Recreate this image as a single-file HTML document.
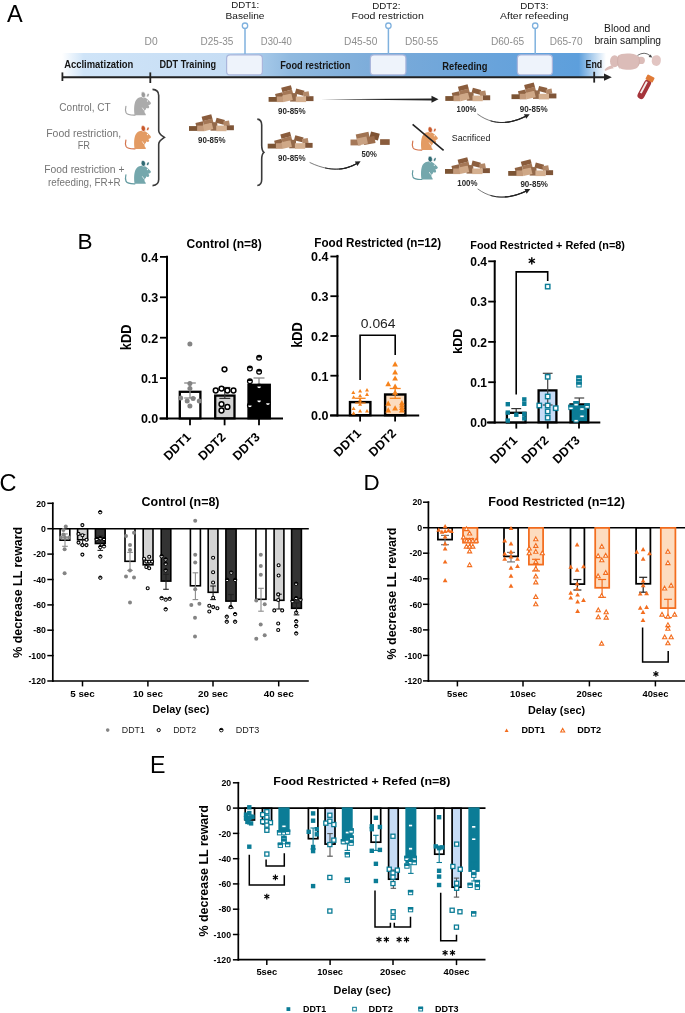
<!DOCTYPE html>
<html><head><meta charset="utf-8"><title>Figure</title>
<style>
html,body{margin:0;padding:0;background:#fff;width:685px;height:1013px;overflow:hidden;}
svg{display:block;will-change:transform;}
text{font-family:"Liberation Sans",sans-serif;}
</style></head><body>
<svg width="685" height="1013" viewBox="0 0 685 1013">
<defs>
<linearGradient id="tl" x1="62" y1="0" x2="606" y2="0" gradientUnits="userSpaceOnUse">
<stop offset="0" stop-color="#ffffff"/>
<stop offset="0.04" stop-color="#cfe4f8"/>
<stop offset="0.30" stop-color="#c6ddf4"/>
<stop offset="0.36" stop-color="#a9cbea"/>
<stop offset="0.42" stop-color="#8fb9df"/>
<stop offset="0.60" stop-color="#79aad9"/>
<stop offset="0.80" stop-color="#68a3db"/>
<stop offset="0.95" stop-color="#5d9fdc"/>
<stop offset="1" stop-color="#ffffff"/>
</linearGradient>
<marker id="ah" viewBox="0 0 10 10" refX="9" refY="5" markerWidth="6" markerHeight="6" orient="auto" markerUnits="userSpaceOnUse"><path d="M0,0L10,5L0,10z" fill="#222"/></marker>
</defs>

<text x="7.1" y="21.9" font-size="23.5">A</text>
<rect x="62.0" y="53.0" width="544.0" height="24.0" fill="url(#tl)" stroke="none" stroke-width="0" />
<rect x="226.6" y="54.9" width="35.8" height="20.0" fill="#eef3fb" stroke="#aab6dc" stroke-width="1.2" rx="3.5"/>
<rect x="370.4" y="54.9" width="35.5" height="20.0" fill="#eef3fb" stroke="#aab6dc" stroke-width="1.2" rx="3.5"/>
<rect x="517.4" y="54.9" width="35.0" height="20.0" fill="#eef3fb" stroke="#aab6dc" stroke-width="1.2" rx="3.5"/>
<line x1="245.0" y1="28.8" x2="245.0" y2="54.0" stroke="#7fb1de" stroke-width="1.5" />
<circle cx="245" cy="25.7" r="2.7" fill="#fff" stroke="#7fb1de" stroke-width="1.3"/>
<line x1="388.4" y1="28.8" x2="388.4" y2="54.0" stroke="#7fb1de" stroke-width="1.5" />
<circle cx="388.4" cy="25.7" r="2.7" fill="#fff" stroke="#7fb1de" stroke-width="1.3"/>
<line x1="535.2" y1="28.8" x2="535.2" y2="54.0" stroke="#7fb1de" stroke-width="1.5" />
<circle cx="535.2" cy="25.7" r="2.7" fill="#fff" stroke="#7fb1de" stroke-width="1.3"/>
<line x1="62.4" y1="77.2" x2="606.0" y2="77.2" stroke="#222" stroke-width="2" />
<path d="M604,73.6 L611.8,77.2 L604,80.8 Z" fill="#222"/>
<line x1="62.4" y1="72.4" x2="62.4" y2="81.0" stroke="#222" stroke-width="1.8" />
<line x1="150.3" y1="72.4" x2="150.3" y2="83.0" stroke="#222" stroke-width="1.8" />
<line x1="594.2" y1="71.8" x2="594.2" y2="82.6" stroke="#222" stroke-width="1.8" />
<text x="64.2" y="68.0" font-size="10" font-weight="bold" fill="#151515" textLength="69.2" lengthAdjust="spacingAndGlyphs">Acclimatization</text>
<text x="159.4" y="68.4" font-size="10" font-weight="bold" fill="#151515" textLength="56.8" lengthAdjust="spacingAndGlyphs">DDT Training</text>
<text x="280.2" y="69.0" font-size="10" font-weight="bold" fill="#151515" textLength="70.1" lengthAdjust="spacingAndGlyphs">Food restriction</text>
<text x="442.3" y="69.5" font-size="10" font-weight="bold" fill="#151515" textLength="45.2" lengthAdjust="spacingAndGlyphs">Refeeding</text>
<text x="585.5" y="67.7" font-size="10" font-weight="bold" fill="#151515" textLength="16.7" lengthAdjust="spacingAndGlyphs">End</text>
<text x="144.5" y="45.4" font-size="10" fill="#8c8c8c" textLength="13.1" lengthAdjust="spacingAndGlyphs">D0</text>
<text x="200.6" y="45.4" font-size="10" fill="#8c8c8c" textLength="32.8" lengthAdjust="spacingAndGlyphs">D25-35</text>
<text x="260.8" y="45.4" font-size="10" fill="#8c8c8c" textLength="31.1" lengthAdjust="spacingAndGlyphs">D30-40</text>
<text x="344.1" y="45.4" font-size="10" fill="#8c8c8c" textLength="33.3" lengthAdjust="spacingAndGlyphs">D45-50</text>
<text x="405.0" y="45.4" font-size="10" fill="#8c8c8c" textLength="33.1" lengthAdjust="spacingAndGlyphs">D50-55</text>
<text x="490.9" y="45.4" font-size="10" fill="#8c8c8c" textLength="33.3" lengthAdjust="spacingAndGlyphs">D60-65</text>
<text x="549.7" y="45.4" font-size="10" fill="#8c8c8c" textLength="32.8" lengthAdjust="spacingAndGlyphs">D65-70</text>
<text x="231.2" y="8.3" font-size="9.3" fill="#151515" textLength="28.0" lengthAdjust="spacingAndGlyphs">DDT1:</text>
<text x="225.6" y="18.8" font-size="9.6" fill="#151515" textLength="38.8" lengthAdjust="spacingAndGlyphs">Baseline</text>
<text x="372.2" y="8.7" font-size="9.3" fill="#151515" textLength="28.2" lengthAdjust="spacingAndGlyphs">DDT2:</text>
<text x="351.5" y="19.0" font-size="9.6" fill="#151515" textLength="72.3" lengthAdjust="spacingAndGlyphs">Food restriction</text>
<text x="520.2" y="8.5" font-size="9.3" fill="#151515" textLength="28.2" lengthAdjust="spacingAndGlyphs">DDT3:</text>
<text x="500.1" y="18.6" font-size="9.6" fill="#151515" textLength="68.4" lengthAdjust="spacingAndGlyphs">After refeeding</text>
<text x="604.1" y="31.8" font-size="10" fill="#151515" textLength="46.2" lengthAdjust="spacingAndGlyphs">Blood and</text>
<text x="594.4" y="43.9" font-size="10" fill="#151515" textLength="66.7" lengthAdjust="spacingAndGlyphs">brain sampling</text>
<text x="59.3" y="110.8" font-size="10" fill="#747474" textLength="51.4" lengthAdjust="spacingAndGlyphs">Control, CT</text>
<text x="46.2" y="137.0" font-size="10" fill="#747474" textLength="75.0" lengthAdjust="spacingAndGlyphs">Food restriction,</text>
<text x="77.7" y="149.1" font-size="10" fill="#747474" textLength="12.4" lengthAdjust="spacingAndGlyphs">FR</text>
<text x="44.2" y="173.2" font-size="10" fill="#747474" textLength="80.3" lengthAdjust="spacingAndGlyphs">Food restriction +</text>
<text x="48.1" y="185.7" font-size="10" fill="#747474" textLength="72.4" lengthAdjust="spacingAndGlyphs">refeeding, FR+R</text>
<g transform="translate(121.5,90.3)"><path d="M13.4,24.9 C9,25 6,24.8 4.6,22.5 C3.8,20.8 3.9,18 4.4,16" stroke="#a3a3a3" stroke-width="1.2" fill="none" stroke-linecap="round"/><path d="M13.1,24.9 C12.3,20 12.4,13 14.5,10 C16,7.6 18.5,6.6 21,6.8 C23.5,7 25.5,8.3 26.8,9.8 C28.2,11 29.3,12.2 29.5,13.2 C28.8,14.3 27.8,14.8 26.8,14.9 C27.8,15.8 28,16.8 27.4,17.6 C26.8,18.2 25.5,18 24.6,17.6 C24.8,18.8 24,19.8 23,20 C22.8,21.5 23.2,23 24.2,23.8 L24.3,24.9 Z" fill="#ababab"/><ellipse cx="21.8" cy="4.5" rx="2.2" ry="3" fill="#9a9a9a" stroke="#fff" stroke-width="0.6" transform="rotate(-8 21.8 4.5)"/><ellipse cx="26.4" cy="4.9" rx="1.05" ry="1.9" fill="#9a9a9a" stroke="#fff" stroke-width="0.5" transform="rotate(25 26.4 4.9)"/><ellipse cx="25.9" cy="10.6" rx="0.55" ry="0.75" fill="#fff"/><path d="M20.8,17.4 L22.4,20" stroke="#fff" stroke-width="0.7"/></g>
<g transform="translate(121.5,124)"><path d="M13.4,24.9 C9,25 6,24.8 4.6,22.5 C3.8,20.8 3.9,18 4.4,16" stroke="#d4744d" stroke-width="1.2" fill="none" stroke-linecap="round"/><path d="M13.1,24.9 C12.3,20 12.4,13 14.5,10 C16,7.6 18.5,6.6 21,6.8 C23.5,7 25.5,8.3 26.8,9.8 C28.2,11 29.3,12.2 29.5,13.2 C28.8,14.3 27.8,14.8 26.8,14.9 C27.8,15.8 28,16.8 27.4,17.6 C26.8,18.2 25.5,18 24.6,17.6 C24.8,18.8 24,19.8 23,20 C22.8,21.5 23.2,23 24.2,23.8 L24.3,24.9 Z" fill="#e39b63"/><ellipse cx="21.8" cy="4.5" rx="2.2" ry="3" fill="#c9592b" stroke="#fff" stroke-width="0.6" transform="rotate(-8 21.8 4.5)"/><ellipse cx="26.4" cy="4.9" rx="1.05" ry="1.9" fill="#c9592b" stroke="#fff" stroke-width="0.5" transform="rotate(25 26.4 4.9)"/><ellipse cx="25.9" cy="10.6" rx="0.55" ry="0.75" fill="#fff"/><path d="M20.8,17.4 L22.4,20" stroke="#fff" stroke-width="0.7"/></g>
<g transform="translate(121.5,158.9)"><path d="M13.4,24.9 C9,25 6,24.8 4.6,22.5 C3.8,20.8 3.9,18 4.4,16" stroke="#629aa0" stroke-width="1.2" fill="none" stroke-linecap="round"/><path d="M13.1,24.9 C12.3,20 12.4,13 14.5,10 C16,7.6 18.5,6.6 21,6.8 C23.5,7 25.5,8.3 26.8,9.8 C28.2,11 29.3,12.2 29.5,13.2 C28.8,14.3 27.8,14.8 26.8,14.9 C27.8,15.8 28,16.8 27.4,17.6 C26.8,18.2 25.5,18 24.6,17.6 C24.8,18.8 24,19.8 23,20 C22.8,21.5 23.2,23 24.2,23.8 L24.3,24.9 Z" fill="#74a7ac"/><ellipse cx="21.8" cy="4.5" rx="2.2" ry="3" fill="#2f6a73" stroke="#fff" stroke-width="0.6" transform="rotate(-8 21.8 4.5)"/><ellipse cx="26.4" cy="4.9" rx="1.05" ry="1.9" fill="#2f6a73" stroke="#fff" stroke-width="0.5" transform="rotate(25 26.4 4.9)"/><ellipse cx="25.9" cy="10.6" rx="0.55" ry="0.75" fill="#fff"/><path d="M20.8,17.4 L22.4,20" stroke="#fff" stroke-width="0.7"/></g>
<g transform="translate(408.4,125.2)"><path d="M13.4,24.9 C9,25 6,24.8 4.6,22.5 C3.8,20.8 3.9,18 4.4,16" stroke="#d4744d" stroke-width="1.2" fill="none" stroke-linecap="round"/><path d="M13.1,24.9 C12.3,20 12.4,13 14.5,10 C16,7.6 18.5,6.6 21,6.8 C23.5,7 25.5,8.3 26.8,9.8 C28.2,11 29.3,12.2 29.5,13.2 C28.8,14.3 27.8,14.8 26.8,14.9 C27.8,15.8 28,16.8 27.4,17.6 C26.8,18.2 25.5,18 24.6,17.6 C24.8,18.8 24,19.8 23,20 C22.8,21.5 23.2,23 24.2,23.8 L24.3,24.9 Z" fill="#e39b63"/><ellipse cx="21.8" cy="4.5" rx="2.2" ry="3" fill="#c9592b" stroke="#fff" stroke-width="0.6" transform="rotate(-8 21.8 4.5)"/><ellipse cx="26.4" cy="4.9" rx="1.05" ry="1.9" fill="#c9592b" stroke="#fff" stroke-width="0.5" transform="rotate(25 26.4 4.9)"/><ellipse cx="25.9" cy="10.6" rx="0.55" ry="0.75" fill="#fff"/><path d="M20.8,17.4 L22.4,20" stroke="#fff" stroke-width="0.7"/></g>
<g transform="translate(408.4,154.6)"><path d="M13.4,24.9 C9,25 6,24.8 4.6,22.5 C3.8,20.8 3.9,18 4.4,16" stroke="#629aa0" stroke-width="1.2" fill="none" stroke-linecap="round"/><path d="M13.1,24.9 C12.3,20 12.4,13 14.5,10 C16,7.6 18.5,6.6 21,6.8 C23.5,7 25.5,8.3 26.8,9.8 C28.2,11 29.3,12.2 29.5,13.2 C28.8,14.3 27.8,14.8 26.8,14.9 C27.8,15.8 28,16.8 27.4,17.6 C26.8,18.2 25.5,18 24.6,17.6 C24.8,18.8 24,19.8 23,20 C22.8,21.5 23.2,23 24.2,23.8 L24.3,24.9 Z" fill="#74a7ac"/><ellipse cx="21.8" cy="4.5" rx="2.2" ry="3" fill="#2f6a73" stroke="#fff" stroke-width="0.6" transform="rotate(-8 21.8 4.5)"/><ellipse cx="26.4" cy="4.9" rx="1.05" ry="1.9" fill="#2f6a73" stroke="#fff" stroke-width="0.5" transform="rotate(25 26.4 4.9)"/><ellipse cx="25.9" cy="10.6" rx="0.55" ry="0.75" fill="#fff"/><path d="M20.8,17.4 L22.4,20" stroke="#fff" stroke-width="0.7"/></g>
<line x1="412.6" y1="124.4" x2="443.6" y2="150.4" stroke="#222" stroke-width="1.6" />
<text x="451.8" y="141.1" font-size="9" fill="#151515" textLength="38.5" lengthAdjust="spacingAndGlyphs">Sacrificed</text>
<path d="M152.5,89.4 C157.46,89.7 158.7,91.9 158.7,95.4 L158.7,130.4 C158.7,134.4 163.0,136.20000000000002 164.5,137.4 C163.0,138.6 158.7,140.4 158.7,144.4 L158.7,179.6 C158.7,183.1 157.46,185.29999999999998 152.5,185.6" stroke="#3a3a3a" stroke-width="1.6" fill="none" />
<path d="M257.3,119.1 C260.82,119.39999999999999 261.7,121.6 261.7,125.1 L261.7,145.3 C261.7,149.3 262.4,151.10000000000002 263.9,152.3 C262.4,153.5 261.7,155.3 261.7,159.3 L261.7,179.5 C261.7,183.0 260.82,185.2 257.3,185.5" stroke="#3a3a3a" stroke-width="1.6" fill="none" />
<g transform="translate(189,114.4)"><rect x="6.9" y="7.7" width="7.6" height="4.6" fill="#8f6343" transform="rotate(-14 10.7 10)"/><g transform="rotate(-15 18.5 5.5)"><rect x="13.6" y="1" width="10" height="4.6" fill="#8a5c3c"/><rect x="13.6" y="5.4" width="10" height="4.4" fill="#a47756"/></g><rect x="26.8" y="4.3" width="8.6" height="5" fill="#8c5f3f" transform="rotate(15 31 6.8)"/><rect x="34.5" y="6.5" width="6" height="4.8" fill="#b28868" transform="rotate(-10 37.5 9)"/><rect x="21.5" y="7.8" width="6.8" height="8.5" fill="#93694a"/><rect x="0" y="11.7" width="8.8" height="4.8" fill="#7c5434"/><rect x="37.4" y="10.9" width="7.5" height="4.9" fill="#7f5538"/><rect x="8.2" y="11.2" width="7" height="5.6" fill="#c39a7a"/><rect x="14.4" y="9.2" width="9.2" height="6.6" fill="#cfa887" transform="rotate(-13 19 12.5)"/><rect x="27.2" y="11.2" width="10.3" height="5.6" fill="#d5b090"/></g>
<g transform="translate(268.6,85.3)"><rect x="6.9" y="7.7" width="7.6" height="4.6" fill="#8f6343" transform="rotate(-14 10.7 10)"/><g transform="rotate(-15 18.5 5.5)"><rect x="13.6" y="1" width="10" height="4.6" fill="#8a5c3c"/><rect x="13.6" y="5.4" width="10" height="4.4" fill="#a47756"/></g><rect x="26.8" y="4.3" width="8.6" height="5" fill="#8c5f3f" transform="rotate(15 31 6.8)"/><rect x="34.5" y="6.5" width="6" height="4.8" fill="#b28868" transform="rotate(-10 37.5 9)"/><rect x="21.5" y="7.8" width="6.8" height="8.5" fill="#93694a"/><rect x="0" y="11.7" width="8.8" height="4.8" fill="#7c5434"/><rect x="37.4" y="10.9" width="7.5" height="4.9" fill="#7f5538"/><rect x="8.2" y="11.2" width="7" height="5.6" fill="#c39a7a"/><rect x="14.4" y="9.2" width="9.2" height="6.6" fill="#cfa887" transform="rotate(-13 19 12.5)"/><rect x="27.2" y="11.2" width="10.3" height="5.6" fill="#d5b090"/></g>
<g transform="translate(267.7,132)"><rect x="6.9" y="7.7" width="7.6" height="4.6" fill="#8f6343" transform="rotate(-14 10.7 10)"/><g transform="rotate(-15 18.5 5.5)"><rect x="13.6" y="1" width="10" height="4.6" fill="#8a5c3c"/><rect x="13.6" y="5.4" width="10" height="4.4" fill="#a47756"/></g><rect x="26.8" y="4.3" width="8.6" height="5" fill="#8c5f3f" transform="rotate(15 31 6.8)"/><rect x="34.5" y="6.5" width="6" height="4.8" fill="#b28868" transform="rotate(-10 37.5 9)"/><rect x="21.5" y="7.8" width="6.8" height="8.5" fill="#93694a"/><rect x="0" y="11.7" width="8.8" height="4.8" fill="#7c5434"/><rect x="37.4" y="10.9" width="7.5" height="4.9" fill="#7f5538"/><rect x="8.2" y="11.2" width="7" height="5.6" fill="#c39a7a"/><rect x="14.4" y="9.2" width="9.2" height="6.6" fill="#cfa887" transform="rotate(-13 19 12.5)"/><rect x="27.2" y="11.2" width="10.3" height="5.6" fill="#d5b090"/></g>
<g transform="translate(445.3,84.4)"><rect x="6.9" y="7.7" width="7.6" height="4.6" fill="#8f6343" transform="rotate(-14 10.7 10)"/><g transform="rotate(-15 18.5 5.5)"><rect x="13.6" y="1" width="10" height="4.6" fill="#8a5c3c"/><rect x="13.6" y="5.4" width="10" height="4.4" fill="#a47756"/></g><rect x="26.8" y="4.3" width="8.6" height="5" fill="#8c5f3f" transform="rotate(15 31 6.8)"/><rect x="34.5" y="6.5" width="6" height="4.8" fill="#b28868" transform="rotate(-10 37.5 9)"/><rect x="21.5" y="7.8" width="6.8" height="8.5" fill="#93694a"/><rect x="0" y="11.7" width="8.8" height="4.8" fill="#7c5434"/><rect x="37.4" y="10.9" width="7.5" height="4.9" fill="#7f5538"/><rect x="8.2" y="11.2" width="7" height="5.6" fill="#c39a7a"/><rect x="14.4" y="9.2" width="9.2" height="6.6" fill="#cfa887" transform="rotate(-13 19 12.5)"/><rect x="27.2" y="11.2" width="10.3" height="5.6" fill="#d5b090"/></g>
<g transform="translate(511.5,82.6)"><rect x="6.9" y="7.7" width="7.6" height="4.6" fill="#8f6343" transform="rotate(-14 10.7 10)"/><g transform="rotate(-15 18.5 5.5)"><rect x="13.6" y="1" width="10" height="4.6" fill="#8a5c3c"/><rect x="13.6" y="5.4" width="10" height="4.4" fill="#a47756"/></g><rect x="26.8" y="4.3" width="8.6" height="5" fill="#8c5f3f" transform="rotate(15 31 6.8)"/><rect x="34.5" y="6.5" width="6" height="4.8" fill="#b28868" transform="rotate(-10 37.5 9)"/><rect x="21.5" y="7.8" width="6.8" height="8.5" fill="#93694a"/><rect x="0" y="11.7" width="8.8" height="4.8" fill="#7c5434"/><rect x="37.4" y="10.9" width="7.5" height="4.9" fill="#7f5538"/><rect x="8.2" y="11.2" width="7" height="5.6" fill="#c39a7a"/><rect x="14.4" y="9.2" width="9.2" height="6.6" fill="#cfa887" transform="rotate(-13 19 12.5)"/><rect x="27.2" y="11.2" width="10.3" height="5.6" fill="#d5b090"/></g>
<g transform="translate(445,157.3)"><rect x="6.9" y="7.7" width="7.6" height="4.6" fill="#8f6343" transform="rotate(-14 10.7 10)"/><g transform="rotate(-15 18.5 5.5)"><rect x="13.6" y="1" width="10" height="4.6" fill="#8a5c3c"/><rect x="13.6" y="5.4" width="10" height="4.4" fill="#a47756"/></g><rect x="26.8" y="4.3" width="8.6" height="5" fill="#8c5f3f" transform="rotate(15 31 6.8)"/><rect x="34.5" y="6.5" width="6" height="4.8" fill="#b28868" transform="rotate(-10 37.5 9)"/><rect x="21.5" y="7.8" width="6.8" height="8.5" fill="#93694a"/><rect x="0" y="11.7" width="8.8" height="4.8" fill="#7c5434"/><rect x="37.4" y="10.9" width="7.5" height="4.9" fill="#7f5538"/><rect x="8.2" y="11.2" width="7" height="5.6" fill="#c39a7a"/><rect x="14.4" y="9.2" width="9.2" height="6.6" fill="#cfa887" transform="rotate(-13 19 12.5)"/><rect x="27.2" y="11.2" width="10.3" height="5.6" fill="#d5b090"/></g>
<g transform="translate(508.2,159.3)"><rect x="6.9" y="7.7" width="7.6" height="4.6" fill="#8f6343" transform="rotate(-14 10.7 10)"/><g transform="rotate(-15 18.5 5.5)"><rect x="13.6" y="1" width="10" height="4.6" fill="#8a5c3c"/><rect x="13.6" y="5.4" width="10" height="4.4" fill="#a47756"/></g><rect x="26.8" y="4.3" width="8.6" height="5" fill="#8c5f3f" transform="rotate(15 31 6.8)"/><rect x="34.5" y="6.5" width="6" height="4.8" fill="#b28868" transform="rotate(-10 37.5 9)"/><rect x="21.5" y="7.8" width="6.8" height="8.5" fill="#93694a"/><rect x="0" y="11.7" width="8.8" height="4.8" fill="#7c5434"/><rect x="37.4" y="10.9" width="7.5" height="4.9" fill="#7f5538"/><rect x="8.2" y="11.2" width="7" height="5.6" fill="#c39a7a"/><rect x="14.4" y="9.2" width="9.2" height="6.6" fill="#cfa887" transform="rotate(-13 19 12.5)"/><rect x="27.2" y="11.2" width="10.3" height="5.6" fill="#d5b090"/></g>
<g transform="translate(350.5,131.5)"><rect x="0" y="8" width="10.2" height="5.9" fill="#a57858"/><rect x="5.8" y="1.5" width="13" height="7" fill="#a07352" transform="rotate(-12 12.3 5)"/><rect x="19.5" y="1" width="9" height="7" fill="#7f5333" transform="rotate(15 24 4.5)"/><rect x="13" y="5.5" width="11.5" height="7" fill="#9c6d4c" transform="rotate(-10 18.7 9)"/><rect x="6.8" y="6" width="10" height="7" fill="#c9a283" transform="rotate(-12 11.8 9.5)"/><rect x="29.6" y="7.7" width="9.6" height="5.7" fill="#8a5c3d"/></g>
<text x="198.1" y="143.1" font-size="9" font-weight="bold" fill="#2a2a2a" textLength="27.4" lengthAdjust="spacingAndGlyphs">90-85%</text>
<text x="278.1" y="113.8" font-size="9" font-weight="bold" fill="#2a2a2a" textLength="27.6" lengthAdjust="spacingAndGlyphs">90-85%</text>
<text x="278.1" y="160.6" font-size="9" font-weight="bold" fill="#2a2a2a" textLength="27.6" lengthAdjust="spacingAndGlyphs">90-85%</text>
<text x="361.5" y="157.3" font-size="9" font-weight="bold" fill="#2a2a2a" textLength="15.4" lengthAdjust="spacingAndGlyphs">50%</text>
<text x="456.6" y="111.8" font-size="9" font-weight="bold" fill="#2a2a2a" textLength="19.7" lengthAdjust="spacingAndGlyphs">100%</text>
<text x="519.8" y="112.2" font-size="9" font-weight="bold" fill="#2a2a2a" textLength="27.8" lengthAdjust="spacingAndGlyphs">90-85%</text>
<text x="457.3" y="186.0" font-size="9" font-weight="bold" fill="#2a2a2a" textLength="20.2" lengthAdjust="spacingAndGlyphs">100%</text>
<text x="520.4" y="186.8" font-size="9" font-weight="bold" fill="#2a2a2a" textLength="27.6" lengthAdjust="spacingAndGlyphs">90-85%</text>
<path d="M320.3,99.3 L432,98.4 L432,100.4 Z" fill="#222"/>
<path d="M431.5,95.8 L438.5,99.3 L431.5,102.8 Z" fill="#222"/>
<path d="M310.00,162.60 L314.40,164.55 L318.72,166.15 L322.94,167.41 L327.07,168.34 L331.11,168.92 L335.05,169.16 L338.91,169.06 L342.67,168.62 L346.34,167.83 L349.92,166.71 L353.41,165.24 L356.81,163.44" stroke="#222" stroke-width="0.6" fill="none" stroke-linecap="round"/>
<path d="M325.43,168.01 L328.29,168.55 L331.11,168.92 L333.88,169.12 L336.61,169.16 L339.29,169.03 L341.93,168.73 L344.52,168.27 L347.07,167.64 L349.57,166.84 L352.03,165.87 L354.44,164.74 L356.81,163.44" stroke="#222" stroke-width="0.9" fill="none" stroke-linecap="round"/>
<path d="M339.67,169.00 L341.18,168.83 L342.67,168.62 L344.15,168.34 L345.62,168.02 L347.07,167.64 L348.50,167.20 L349.92,166.71 L351.33,166.16 L352.72,165.56 L354.10,164.91 L355.46,164.20 L356.81,163.44" stroke="#222" stroke-width="1.25" fill="none" stroke-linecap="round"/>
<path d="M360.60,161.20 L357.44,166.08 L354.80,161.60 Z" fill="#222"/>
<path d="M477.70,114.20 L481.27,116.60 L484.92,118.59 L488.65,120.17 L492.46,121.35 L496.35,122.13 L500.32,122.50 L504.36,122.46 L508.49,122.02 L512.69,121.17 L516.97,119.91 L521.34,118.25 L525.77,116.19" stroke="#222" stroke-width="0.6" fill="none" stroke-linecap="round"/>
<path d="M490.93,120.93 L493.62,121.63 L496.35,122.13 L499.12,122.43 L501.93,122.53 L504.77,122.43 L507.66,122.14 L510.58,121.64 L513.54,120.95 L516.54,120.06 L519.58,118.97 L522.66,117.68 L525.77,116.19" stroke="#222" stroke-width="0.9" fill="none" stroke-linecap="round"/>
<path d="M505.18,122.40 L506.83,122.24 L508.49,122.02 L510.16,121.73 L511.85,121.37 L513.54,120.95 L515.25,120.46 L516.97,119.91 L518.71,119.30 L520.46,118.62 L522.22,117.87 L523.99,117.06 L525.77,116.19" stroke="#222" stroke-width="1.25" fill="none" stroke-linecap="round"/>
<path d="M529.70,114.20 L526.24,118.87 L523.89,114.23 Z" fill="#222"/>
<path d="M478.00,189.10 L481.46,191.40 L485.02,193.32 L488.69,194.84 L492.46,195.97 L496.33,196.72 L500.30,197.07 L504.38,197.03 L508.56,196.60 L512.85,195.78 L517.24,194.57 L521.73,192.97 L526.32,190.97" stroke="#222" stroke-width="0.6" fill="none" stroke-linecap="round"/>
<path d="M490.94,195.57 L493.61,196.24 L496.33,196.72 L499.10,197.00 L501.92,197.10 L504.80,197.00 L507.72,196.72 L510.69,196.24 L513.72,195.57 L516.79,194.71 L519.92,193.65 L523.09,192.41 L526.32,190.97" stroke="#222" stroke-width="0.9" fill="none" stroke-linecap="round"/>
<path d="M505.21,196.97 L506.88,196.82 L508.56,196.60 L510.27,196.32 L511.98,195.97 L513.72,195.57 L515.47,195.10 L517.24,194.57 L519.02,193.97 L520.82,193.32 L522.64,192.60 L524.47,191.82 L526.32,190.97" stroke="#222" stroke-width="1.25" fill="none" stroke-linecap="round"/>
<path d="M530.30,189.10 L526.70,193.67 L524.49,188.96 Z" fill="#222"/>
<g fill="#dbbcb8"><path d="M604.5,70 C606,67.5 609,66.2 612,65.3 L613.8,68.3 C610,68.9 607,70.1 605.5,70.9 Z"/><ellipse cx="614.6" cy="61.3" rx="4.6" ry="6"/><path d="M618,56 C620,53.8 625,53.2 630,53.6 C635,54 638.5,55.5 639.5,58.5 C640.5,62 639.5,66.5 636,68.5 C632,70.3 625,70.2 621,68.8 C618,67.5 617,63 617.5,59.5 Z"/><ellipse cx="641" cy="60.4" rx="3.9" ry="3.7"/><path d="M652,58.5 C652.5,56 655,55 657.5,55.3 C660,55.8 661.2,58 660.8,61 C660.6,63.8 659,66 656.5,66 C653.8,66 651.8,64.2 651.7,61.6 Z" fill="#e2c5c2"/></g>
<path d="M618.6,55.6 C617,59.5 617.2,64.5 619.5,68.5" stroke="#caa7a2" stroke-width="0.6" fill="none" />
<path d="M638.4,56.4 C639.8,59.5 639.8,62.5 638.4,65.2" stroke="#caa7a2" stroke-width="0.6" fill="none" />
<path d="M637.5,55.4 Q644.5,51 650,55.6" stroke="#444" stroke-width="0.8" fill="none" />
<path d="M652.3,57.5 L648.6,56.9 L650.6,54.5 Z" fill="#444"/>
<g transform="translate(645,88) rotate(28)"><rect x="-3.5" y="-9" width="7" height="21" rx="3.5" fill="#a5333a"/><rect x="-2.3" y="-6.5" width="2" height="13" fill="#f3ecea"/><rect x="-4" y="-13.5" width="8" height="5.5" rx="1" fill="#e07b37"/></g>
<text x="77.5" y="248.9" font-size="22.6">B</text>
<line x1="167.0" y1="255.7" x2="167.0" y2="419.5" stroke="#000" stroke-width="2" />
<line x1="160.0" y1="418.5" x2="168.0" y2="418.5" stroke="#000" stroke-width="1.8" />
<text x="158.3" y="423.3" font-size="12.5" font-weight="bold" text-anchor="end">0.0</text>
<line x1="160.0" y1="378.1" x2="168.0" y2="378.1" stroke="#000" stroke-width="1.8" />
<text x="158.3" y="382.9" font-size="12.5" font-weight="bold" text-anchor="end">0.1</text>
<line x1="160.0" y1="337.7" x2="168.0" y2="337.7" stroke="#000" stroke-width="1.8" />
<text x="158.3" y="342.5" font-size="12.5" font-weight="bold" text-anchor="end">0.2</text>
<line x1="160.0" y1="297.3" x2="168.0" y2="297.3" stroke="#000" stroke-width="1.8" />
<text x="158.3" y="302.1" font-size="12.5" font-weight="bold" text-anchor="end">0.3</text>
<line x1="160.0" y1="256.9" x2="168.0" y2="256.9" stroke="#000" stroke-width="1.8" />
<text x="158.3" y="261.7" font-size="12.5" font-weight="bold" text-anchor="end">0.4</text>
<line x1="159.5" y1="418.5" x2="283.0" y2="418.5" stroke="#000" stroke-width="2" />
<text x="186.5" y="247.7" font-size="12" font-weight="bold" textLength="75.3" lengthAdjust="spacingAndGlyphs">Control (n=8)</text>
<text transform="translate(131.2,337.4) rotate(-90)" font-size="14" font-weight="bold" text-anchor="middle" textLength="25.5" lengthAdjust="spacingAndGlyphs">kDD</text>
<rect x="179.8" y="391.8" width="20.6" height="26.6" fill="#fff" stroke="#000" stroke-width="2.3" />
<rect x="215.2" y="395.6" width="19.3" height="22.7" fill="#d4d4d4" stroke="#000" stroke-width="2.3" />
<rect x="248.5" y="384.8" width="21.3" height="33.5" fill="#000" stroke="#000" stroke-width="2.3" />
<line x1="190.0" y1="383.0" x2="190.0" y2="398.0" stroke="#888" stroke-width="1.3" />
<line x1="184.2" y1="383.0" x2="195.8" y2="383.0" stroke="#888" stroke-width="1.3" />
<line x1="184.2" y1="398.0" x2="195.8" y2="398.0" stroke="#888" stroke-width="1.3" />
<line x1="224.8" y1="387.5" x2="224.8" y2="398.4" stroke="#333" stroke-width="1.2" />
<line x1="219.3" y1="387.5" x2="230.3" y2="387.5" stroke="#333" stroke-width="1.2" />
<line x1="219.3" y1="398.4" x2="230.3" y2="398.4" stroke="#333" stroke-width="1.2" />
<line x1="259.0" y1="378.0" x2="259.0" y2="383.7" stroke="#888" stroke-width="1.3" />
<line x1="253.5" y1="378.0" x2="264.5" y2="378.0" stroke="#888" stroke-width="1.3" />
<circle cx="189.9" cy="344.0" r="2.5" fill="#848484" stroke="none" stroke-width="0"/>
<circle cx="189.9" cy="383.5" r="2.5" fill="#848484" stroke="none" stroke-width="0"/>
<circle cx="189.9" cy="388.6" r="2.5" fill="#848484" stroke="none" stroke-width="0"/>
<circle cx="180.7" cy="398.1" r="2.5" fill="#848484" stroke="none" stroke-width="0"/>
<circle cx="193.1" cy="398.4" r="2.5" fill="#848484" stroke="none" stroke-width="0"/>
<circle cx="187.2" cy="401.0" r="2.5" fill="#848484" stroke="none" stroke-width="0"/>
<circle cx="199.3" cy="401.0" r="2.5" fill="#848484" stroke="none" stroke-width="0"/>
<circle cx="189.9" cy="406.1" r="2.5" fill="#848484" stroke="none" stroke-width="0"/>
<circle cx="224.5" cy="369.3" r="2.4" fill="#fff" stroke="#000" stroke-width="1.5"/>
<circle cx="215.7" cy="390.5" r="2.4" fill="#fff" stroke="#000" stroke-width="1.5"/>
<circle cx="221.5" cy="388.6" r="2.4" fill="#fff" stroke="#000" stroke-width="1.5"/>
<circle cx="227.4" cy="390.5" r="2.4" fill="#fff" stroke="#000" stroke-width="1.5"/>
<circle cx="233.5" cy="390.5" r="2.4" fill="#fff" stroke="#000" stroke-width="1.5"/>
<circle cx="221.5" cy="404.2" r="2.4" fill="#fff" stroke="#000" stroke-width="1.5"/>
<circle cx="227.4" cy="406.9" r="2.4" fill="#fff" stroke="#000" stroke-width="1.5"/>
<circle cx="221.5" cy="410.5" r="2.4" fill="#fff" stroke="#000" stroke-width="1.5"/>
<path d="M256.7,357.7 A2.4,2.4 0 0 1 261.5,357.7 Z" fill="#000"/>
<path d="M256.7,357.7 A2.4,2.4 0 0 0 261.5,357.7 Z" fill="#fff"/>
<circle cx="259.1" cy="357.7" r="2.4" fill="none" stroke="#000" stroke-width="1.2"/>
<path d="M247.5,368.6 A2.4,2.4 0 0 1 252.3,368.6 Z" fill="#000"/>
<path d="M247.5,368.6 A2.4,2.4 0 0 0 252.3,368.6 Z" fill="#fff"/>
<circle cx="249.9" cy="368.6" r="2.4" fill="none" stroke="#000" stroke-width="1.2"/>
<path d="M256.7,371.8 A2.4,2.4 0 0 1 261.5,371.8 Z" fill="#000"/>
<path d="M256.7,371.8 A2.4,2.4 0 0 0 261.5,371.8 Z" fill="#fff"/>
<circle cx="259.1" cy="371.8" r="2.4" fill="none" stroke="#000" stroke-width="1.2"/>
<path d="M247.5,381.3 A2.4,2.4 0 0 1 252.3,381.3 Z" fill="#000"/>
<path d="M247.5,381.3 A2.4,2.4 0 0 0 252.3,381.3 Z" fill="#fff"/>
<circle cx="249.9" cy="381.3" r="2.4" fill="none" stroke="#000" stroke-width="1.2"/>
<path d="M256.7,386.4 A2.4,2.4 0 0 1 261.5,386.4 Z" fill="#000"/>
<path d="M256.7,386.4 A2.4,2.4 0 0 0 261.5,386.4 Z" fill="#fff"/>
<circle cx="259.1" cy="386.4" r="2.4" fill="none" stroke="#000" stroke-width="1.2"/>
<path d="M256.7,400.6 A2.4,2.4 0 0 1 261.5,400.6 Z" fill="#000"/>
<path d="M256.7,400.6 A2.4,2.4 0 0 0 261.5,400.6 Z" fill="#fff"/>
<circle cx="259.1" cy="400.6" r="2.4" fill="none" stroke="#000" stroke-width="1.2"/>
<path d="M247.5,405.4 A2.4,2.4 0 0 1 252.3,405.4 Z" fill="#000"/>
<path d="M247.5,405.4 A2.4,2.4 0 0 0 252.3,405.4 Z" fill="#fff"/>
<circle cx="249.9" cy="405.4" r="2.4" fill="none" stroke="#000" stroke-width="1.2"/>
<path d="M265.5,403.2 A2.4,2.4 0 0 1 270.3,403.2 Z" fill="#000"/>
<path d="M265.5,403.2 A2.4,2.4 0 0 0 270.3,403.2 Z" fill="#fff"/>
<circle cx="267.9" cy="403.2" r="2.4" fill="none" stroke="#000" stroke-width="1.2"/>
<line x1="190.0" y1="418.5" x2="190.0" y2="425.3" stroke="#000" stroke-width="1.8" />
<text transform="translate(191.8,437.8) rotate(-45)" font-size="12.5" font-weight="bold" text-anchor="end">DDT1</text>
<line x1="224.6" y1="418.5" x2="224.6" y2="425.3" stroke="#000" stroke-width="1.8" />
<text transform="translate(226.4,437.8) rotate(-45)" font-size="12.5" font-weight="bold" text-anchor="end">DDT2</text>
<line x1="259.0" y1="418.5" x2="259.0" y2="425.3" stroke="#000" stroke-width="1.8" />
<text transform="translate(260.8,437.8) rotate(-45)" font-size="12.5" font-weight="bold" text-anchor="end">DDT3</text>
<line x1="337.4" y1="254.9" x2="337.4" y2="416.4" stroke="#000" stroke-width="2" />
<line x1="330.4" y1="415.4" x2="338.4" y2="415.4" stroke="#000" stroke-width="1.8" />
<text x="328.4" y="420.2" font-size="12.5" font-weight="bold" text-anchor="end">0.0</text>
<line x1="330.4" y1="375.7" x2="338.4" y2="375.7" stroke="#000" stroke-width="1.8" />
<text x="328.4" y="380.5" font-size="12.5" font-weight="bold" text-anchor="end">0.1</text>
<line x1="330.4" y1="336.0" x2="338.4" y2="336.0" stroke="#000" stroke-width="1.8" />
<text x="328.4" y="340.8" font-size="12.5" font-weight="bold" text-anchor="end">0.2</text>
<line x1="330.4" y1="296.2" x2="338.4" y2="296.2" stroke="#000" stroke-width="1.8" />
<text x="328.4" y="301.1" font-size="12.5" font-weight="bold" text-anchor="end">0.3</text>
<line x1="330.4" y1="256.5" x2="338.4" y2="256.5" stroke="#000" stroke-width="1.8" />
<text x="328.4" y="261.4" font-size="12.5" font-weight="bold" text-anchor="end">0.4</text>
<line x1="330.0" y1="415.4" x2="419.2" y2="415.4" stroke="#000" stroke-width="2" />
<text x="314.3" y="246.8" font-size="12" font-weight="bold" textLength="126.8" lengthAdjust="spacingAndGlyphs">Food Restricted (n=12)</text>
<text transform="translate(301.5,335) rotate(-90)" font-size="14" font-weight="bold" text-anchor="middle" textLength="25.5" lengthAdjust="spacingAndGlyphs">kDD</text>
<rect x="350.0" y="402.1" width="20.4" height="13.1" fill="#fff" stroke="#000" stroke-width="2.4" />
<rect x="385.1" y="394.5" width="20.3" height="20.7" fill="#fcdcbe" stroke="#000" stroke-width="2.4" />
<path d="M360.1,380.1 L360.1,335.3 L395.2,335.3 L395.2,355" stroke="#000" stroke-width="1.6" fill="none" />
<text x="360.8" y="327.7" font-size="13.2" fill="#222" textLength="34.8" lengthAdjust="spacingAndGlyphs">0.064</text>
<line x1="360.3" y1="398.3" x2="360.3" y2="403.0" stroke="#f6831c" stroke-width="1.3" />
<line x1="355.1" y1="398.3" x2="365.6" y2="398.3" stroke="#f6831c" stroke-width="1.3" />
<line x1="355.1" y1="403.0" x2="365.6" y2="403.0" stroke="#f6831c" stroke-width="1.3" />
<line x1="395.2" y1="388.5" x2="395.2" y2="398.3" stroke="#f6831c" stroke-width="1.3" />
<line x1="389.7" y1="388.5" x2="400.7" y2="388.5" stroke="#f6831c" stroke-width="1.3" />
<line x1="389.7" y1="398.3" x2="400.7" y2="398.3" stroke="#f6831c" stroke-width="1.3" />
<path d="M353.3,390.4 L355.3,394.0 L351.3,394.0 Z" fill="#f6831c"/>
<path d="M360.1,388.9 L362.1,392.5 L358.1,392.5 Z" fill="#f6831c"/>
<path d="M367.0,387.9 L369.0,391.5 L365.0,391.5 Z" fill="#f6831c"/>
<path d="M353.6,395.2 L355.6,398.8 L351.6,398.8 Z" fill="#f6831c"/>
<path d="M360.1,393.7 L362.1,397.3 L358.1,397.3 Z" fill="#f6831c"/>
<path d="M367.0,392.3 L369.0,395.9 L365.0,395.9 Z" fill="#f6831c"/>
<path d="M360.1,397.8 L362.1,401.4 L358.1,401.4 Z" fill="#f6831c"/>
<path d="M360.1,402.2 L362.1,405.8 L358.1,405.8 Z" fill="#f6831c"/>
<path d="M353.6,406.4 L355.6,410.0 L351.6,410.0 Z" fill="#f6831c"/>
<path d="M360.1,409.0 L362.1,412.6 L358.1,412.6 Z" fill="#f6831c"/>
<path d="M367.0,409.0 L369.0,412.6 L365.0,412.6 Z" fill="#f6831c"/>
<path d="M353.6,411.2 L355.6,414.8 L351.6,414.8 Z" fill="#f6831c"/>
<path d="M395.1,361.2 L398.0,366.4 L392.2,366.4 Z" fill="#f6831c"/>
<path d="M395.1,369.2 L398.0,374.4 L392.2,374.4 Z" fill="#f6831c"/>
<path d="M395.1,375.4 L398.0,380.6 L392.2,380.6 Z" fill="#f6831c"/>
<path d="M388.2,381.1 L391.1,386.3 L385.3,386.3 Z" fill="#f6831c"/>
<path d="M395.1,383.5 L398.0,388.7 L392.2,388.7 Z" fill="#f6831c"/>
<path d="M395.1,389.6 L398.0,394.8 L392.2,394.8 Z" fill="#f6831c"/>
<path d="M388.2,400.5 L391.1,405.7 L385.3,405.7 Z" fill="#f6831c"/>
<path d="M395.1,405.3 L398.0,410.5 L392.2,410.5 Z" fill="#f6831c"/>
<path d="M388.2,407.2 L391.1,412.4 L385.3,412.4 Z" fill="#f6831c"/>
<path d="M401.9,400.1 L404.8,405.3 L399.0,405.3 Z" fill="#f6831c"/>
<path d="M401.9,402.4 L404.8,407.6 L399.0,407.6 Z" fill="#f6831c"/>
<path d="M401.9,404.8 L404.8,410.0 L399.0,410.0 Z" fill="#f6831c"/>
<path d="M401.9,407.2 L404.8,412.4 L399.0,412.4 Z" fill="#f6831c"/>
<line x1="360.1" y1="415.4" x2="360.1" y2="421.6" stroke="#000" stroke-width="1.8" />
<text transform="translate(361.9,434.1) rotate(-45)" font-size="12.5" font-weight="bold" text-anchor="end">DDT1</text>
<line x1="395.1" y1="415.4" x2="395.1" y2="421.6" stroke="#000" stroke-width="1.8" />
<text transform="translate(396.9,434.1) rotate(-45)" font-size="12.5" font-weight="bold" text-anchor="end">DDT2</text>
<line x1="494.7" y1="260.4" x2="494.7" y2="423.5" stroke="#000" stroke-width="2" />
<line x1="488.2" y1="422.5" x2="495.7" y2="422.5" stroke="#000" stroke-width="1.8" />
<text x="487.0" y="427.2" font-size="12" font-weight="bold" text-anchor="end">0.0</text>
<line x1="488.2" y1="382.2" x2="495.7" y2="382.2" stroke="#000" stroke-width="1.8" />
<text x="487.0" y="386.9" font-size="12" font-weight="bold" text-anchor="end">0.1</text>
<line x1="488.2" y1="341.9" x2="495.7" y2="341.9" stroke="#000" stroke-width="1.8" />
<text x="487.0" y="346.6" font-size="12" font-weight="bold" text-anchor="end">0.2</text>
<line x1="488.2" y1="301.6" x2="495.7" y2="301.6" stroke="#000" stroke-width="1.8" />
<text x="487.0" y="306.3" font-size="12" font-weight="bold" text-anchor="end">0.3</text>
<line x1="488.2" y1="261.3" x2="495.7" y2="261.3" stroke="#000" stroke-width="1.8" />
<text x="487.0" y="266.0" font-size="12" font-weight="bold" text-anchor="end">0.4</text>
<line x1="487.0" y1="422.5" x2="600.3" y2="422.5" stroke="#000" stroke-width="2" />
<text x="470.3" y="249.3" font-size="10.6" font-weight="bold" textLength="154.6" lengthAdjust="spacingAndGlyphs">Food Restricted + Refed (n=8)</text>
<text transform="translate(462.4,341.2) rotate(-90)" font-size="13.2" font-weight="bold" text-anchor="middle" textLength="25" lengthAdjust="spacingAndGlyphs">kDD</text>
<rect x="506.9" y="412.8" width="18.6" height="9.6" fill="#fff" stroke="#000" stroke-width="2.3" />
<rect x="538.6" y="390.4" width="17.8" height="31.9" fill="#c7dcf6" stroke="#000" stroke-width="2.3" />
<rect x="570.5" y="404.4" width="17.8" height="17.9" fill="#0b7c96" stroke="#000" stroke-width="2.3" />
<path d="M516.2,394.5 L516.2,271.9 L547.7,271.9 L547.7,281" stroke="#000" stroke-width="1.6" fill="none" />
<line x1="531.8" y1="257.2" x2="531.8" y2="264.4" stroke="#000" stroke-width="1.4" />
<line x1="528.7" y1="259.0" x2="534.9" y2="262.6" stroke="#000" stroke-width="1.4" />
<line x1="528.7" y1="262.6" x2="534.9" y2="259.0" stroke="#000" stroke-width="1.4" />
<line x1="516.2" y1="408.6" x2="516.2" y2="412.5" stroke="#333" stroke-width="1.2" />
<line x1="511.3" y1="408.6" x2="521.2" y2="408.6" stroke="#333" stroke-width="1.2" />
<line x1="547.7" y1="373.3" x2="547.7" y2="405.0" stroke="#444" stroke-width="1.2" />
<line x1="542.8" y1="373.3" x2="552.6" y2="373.3" stroke="#444" stroke-width="1.2" />
<line x1="542.8" y1="405.0" x2="552.6" y2="405.0" stroke="#444" stroke-width="1.2" />
<line x1="579.3" y1="398.0" x2="579.3" y2="403.5" stroke="#444" stroke-width="1.2" />
<line x1="574.4" y1="398.0" x2="584.2" y2="398.0" stroke="#444" stroke-width="1.2" />
<rect x="505.6" y="402.0" width="4.4" height="4.4" fill="#0b7c96" stroke="none" stroke-width="0" />
<rect x="522.1" y="397.2" width="4.4" height="4.4" fill="#0b7c96" stroke="none" stroke-width="0" />
<rect x="522.1" y="401.6" width="4.4" height="4.4" fill="#0b7c96" stroke="none" stroke-width="0" />
<rect x="505.6" y="410.4" width="4.4" height="4.4" fill="#0b7c96" stroke="none" stroke-width="0" />
<rect x="514.1" y="412.5" width="4.4" height="4.4" fill="#0b7c96" stroke="none" stroke-width="0" />
<rect x="522.1" y="411.8" width="4.4" height="4.4" fill="#0b7c96" stroke="none" stroke-width="0" />
<rect x="522.1" y="416.2" width="4.4" height="4.4" fill="#0b7c96" stroke="none" stroke-width="0" />
<rect x="505.6" y="418.4" width="4.4" height="4.4" fill="#0b7c96" stroke="none" stroke-width="0" />
<rect x="545.5" y="284.4" width="4.4" height="4.4" fill="#fff" stroke="#0b7c96" stroke-width="1.4" />
<rect x="545.5" y="374.6" width="4.4" height="4.4" fill="#fff" stroke="#0b7c96" stroke-width="1.4" />
<rect x="545.5" y="394.3" width="4.4" height="4.4" fill="#fff" stroke="#0b7c96" stroke-width="1.4" />
<rect x="537.1" y="403.3" width="4.4" height="4.4" fill="#fff" stroke="#0b7c96" stroke-width="1.4" />
<rect x="545.5" y="403.3" width="4.4" height="4.4" fill="#fff" stroke="#0b7c96" stroke-width="1.4" />
<rect x="553.5" y="406.0" width="4.4" height="4.4" fill="#fff" stroke="#0b7c96" stroke-width="1.4" />
<rect x="545.5" y="409.2" width="4.4" height="4.4" fill="#fff" stroke="#0b7c96" stroke-width="1.4" />
<rect x="545.5" y="415.5" width="4.4" height="4.4" fill="#fff" stroke="#0b7c96" stroke-width="1.4" />
<rect x="576.8" y="376.0" width="4.4" height="4.4" fill="#fff" stroke="#0b7c96" stroke-width="1.0" />
<rect x="576.3" y="375.5" width="5.4" height="2.7" fill="#0b7c96" stroke="none" stroke-width="0" />
<rect x="576.8" y="379.4" width="4.4" height="4.4" fill="#fff" stroke="#0b7c96" stroke-width="1.0" />
<rect x="576.3" y="378.9" width="5.4" height="2.7" fill="#0b7c96" stroke="none" stroke-width="0" />
<rect x="576.8" y="382.6" width="4.4" height="4.4" fill="#fff" stroke="#0b7c96" stroke-width="1.0" />
<rect x="576.3" y="382.1" width="5.4" height="2.7" fill="#0b7c96" stroke="none" stroke-width="0" />
<rect x="573.9" y="401.6" width="4.4" height="4.4" fill="#fff" stroke="#0b7c96" stroke-width="1.0" />
<rect x="573.4" y="401.1" width="5.4" height="2.7" fill="#0b7c96" stroke="none" stroke-width="0" />
<rect x="568.8" y="405.2" width="4.4" height="4.4" fill="#fff" stroke="#0b7c96" stroke-width="1.0" />
<rect x="568.3" y="404.7" width="5.4" height="2.7" fill="#0b7c96" stroke="none" stroke-width="0" />
<rect x="579.8" y="406.0" width="4.4" height="4.4" fill="#fff" stroke="#0b7c96" stroke-width="1.0" />
<rect x="579.3" y="405.5" width="5.4" height="2.7" fill="#0b7c96" stroke="none" stroke-width="0" />
<rect x="584.9" y="403.8" width="4.4" height="4.4" fill="#fff" stroke="#0b7c96" stroke-width="1.0" />
<rect x="584.4" y="403.3" width="5.4" height="2.7" fill="#0b7c96" stroke="none" stroke-width="0" />
<rect x="579.8" y="413.3" width="4.4" height="4.4" fill="#fff" stroke="#0b7c96" stroke-width="1.0" />
<rect x="579.3" y="412.8" width="5.4" height="2.7" fill="#0b7c96" stroke="none" stroke-width="0" />
<rect x="573.9" y="417.7" width="4.4" height="4.4" fill="#fff" stroke="#0b7c96" stroke-width="1.0" />
<rect x="573.4" y="417.2" width="5.4" height="2.7" fill="#0b7c96" stroke="none" stroke-width="0" />
<line x1="516.3" y1="422.5" x2="516.3" y2="428.6" stroke="#000" stroke-width="1.8" />
<text transform="translate(518.1,441.1) rotate(-45)" font-size="12.5" font-weight="bold" text-anchor="end">DDT1</text>
<line x1="547.7" y1="422.5" x2="547.7" y2="428.6" stroke="#000" stroke-width="1.8" />
<text transform="translate(549.5,441.1) rotate(-45)" font-size="12.5" font-weight="bold" text-anchor="end">DDT2</text>
<line x1="579.0" y1="422.5" x2="579.0" y2="428.6" stroke="#000" stroke-width="1.8" />
<text transform="translate(580.8,441.1) rotate(-45)" font-size="12.5" font-weight="bold" text-anchor="end">DDT3</text>
<text x="-0.5" y="491.0" font-size="23.5">C</text>
<line x1="52.8" y1="502.4" x2="52.8" y2="681.8" stroke="#000" stroke-width="1.7" />
<line x1="47.3" y1="503.3" x2="53.6" y2="503.3" stroke="#000" stroke-width="1.5" />
<text x="45.9" y="506.5" font-size="9.5" font-weight="bold" text-anchor="end" textLength="9.7" lengthAdjust="spacingAndGlyphs">20</text>
<line x1="47.3" y1="528.7" x2="53.6" y2="528.7" stroke="#000" stroke-width="1.5" />
<text x="45.9" y="531.9" font-size="9.5" font-weight="bold" text-anchor="end" textLength="4.9" lengthAdjust="spacingAndGlyphs">0</text>
<line x1="47.3" y1="554.1" x2="53.6" y2="554.1" stroke="#000" stroke-width="1.5" />
<text x="45.9" y="557.3" font-size="9.5" font-weight="bold" text-anchor="end" textLength="12.6" lengthAdjust="spacingAndGlyphs">-20</text>
<line x1="47.3" y1="579.5" x2="53.6" y2="579.5" stroke="#000" stroke-width="1.5" />
<text x="45.9" y="582.7" font-size="9.5" font-weight="bold" text-anchor="end" textLength="12.6" lengthAdjust="spacingAndGlyphs">-40</text>
<line x1="47.3" y1="604.9" x2="53.6" y2="604.9" stroke="#000" stroke-width="1.5" />
<text x="45.9" y="608.1" font-size="9.5" font-weight="bold" text-anchor="end" textLength="12.6" lengthAdjust="spacingAndGlyphs">-60</text>
<line x1="47.3" y1="630.2" x2="53.6" y2="630.2" stroke="#000" stroke-width="1.5" />
<text x="45.9" y="633.4" font-size="9.5" font-weight="bold" text-anchor="end" textLength="12.6" lengthAdjust="spacingAndGlyphs">-80</text>
<line x1="47.3" y1="655.6" x2="53.6" y2="655.6" stroke="#000" stroke-width="1.5" />
<text x="45.9" y="658.8" font-size="9.5" font-weight="bold" text-anchor="end" textLength="17.5" lengthAdjust="spacingAndGlyphs">-100</text>
<line x1="47.3" y1="681.0" x2="53.6" y2="681.0" stroke="#000" stroke-width="1.5" />
<text x="45.9" y="684.2" font-size="9.5" font-weight="bold" text-anchor="end" textLength="17.5" lengthAdjust="spacingAndGlyphs">-120</text>
<line x1="52.8" y1="528.7" x2="308.8" y2="528.7" stroke="#000" stroke-width="1.6" />
<line x1="52.0" y1="681.0" x2="308.8" y2="681.0" stroke="#000" stroke-width="1.7" />
<line x1="82.5" y1="681.0" x2="82.5" y2="686.4" stroke="#000" stroke-width="1.5" />
<text x="82.5" y="697.4" font-size="9.8" font-weight="bold" text-anchor="middle">5 sec</text>
<line x1="147.9" y1="681.0" x2="147.9" y2="686.4" stroke="#000" stroke-width="1.5" />
<text x="147.9" y="697.4" font-size="9.8" font-weight="bold" text-anchor="middle">10 sec</text>
<line x1="213.0" y1="681.0" x2="213.0" y2="686.4" stroke="#000" stroke-width="1.5" />
<text x="213.0" y="697.4" font-size="9.8" font-weight="bold" text-anchor="middle">20 sec</text>
<line x1="278.7" y1="681.0" x2="278.7" y2="686.4" stroke="#000" stroke-width="1.5" />
<text x="278.7" y="697.4" font-size="9.8" font-weight="bold" text-anchor="middle">40 sec</text>
<text x="141.6" y="505.8" font-size="12" font-weight="bold" textLength="77.9" lengthAdjust="spacingAndGlyphs">Control (n=8)</text>
<text transform="translate(22.1,592.3) rotate(-90)" font-size="12.6" font-weight="bold" text-anchor="middle" textLength="130.9" lengthAdjust="spacingAndGlyphs">% decrease LL reward</text>
<text x="152.4" y="713.3" font-size="10.6" font-weight="bold" textLength="57.0" lengthAdjust="spacingAndGlyphs">Delay (sec)</text>
<rect x="60.1" y="528.8" width="9.7" height="11.4" fill="#fff" stroke="#000" stroke-width="1.6" />
<rect x="77.6" y="528.8" width="10.0" height="11.0" fill="#d4d4d4" stroke="#000" stroke-width="1.6" />
<rect x="95.4" y="528.8" width="9.8" height="14.7" fill="#333" stroke="#000" stroke-width="1.6" />
<rect x="125.0" y="528.8" width="10.0" height="32.5" fill="#fff" stroke="#000" stroke-width="1.6" />
<rect x="143.2" y="528.8" width="9.8" height="36.0" fill="#d4d4d4" stroke="#000" stroke-width="1.6" />
<rect x="161.2" y="528.8" width="9.6" height="52.3" fill="#333" stroke="#000" stroke-width="1.6" />
<rect x="190.4" y="528.8" width="10.0" height="57.0" fill="#fff" stroke="#000" stroke-width="1.6" />
<rect x="208.2" y="528.8" width="9.7" height="63.5" fill="#d4d4d4" stroke="#000" stroke-width="1.6" />
<rect x="225.9" y="528.8" width="10.2" height="72.3" fill="#333" stroke="#000" stroke-width="1.6" />
<rect x="255.9" y="528.8" width="10.1" height="70.5" fill="#fff" stroke="#000" stroke-width="1.6" />
<rect x="274.1" y="528.8" width="9.8" height="71.5" fill="#d4d4d4" stroke="#000" stroke-width="1.6" />
<rect x="291.6" y="528.8" width="9.8" height="79.5" fill="#333" stroke="#000" stroke-width="1.6" />
<line x1="65.0" y1="533.9" x2="65.0" y2="546.3" stroke="#8c8c8c" stroke-width="1.1" />
<line x1="62.2" y1="533.9" x2="67.8" y2="533.9" stroke="#8c8c8c" stroke-width="1.1" />
<line x1="62.2" y1="546.3" x2="67.8" y2="546.3" stroke="#8c8c8c" stroke-width="1.1" />
<line x1="82.6" y1="534.5" x2="82.6" y2="545.0" stroke="#222" stroke-width="1.1" />
<line x1="79.8" y1="534.5" x2="85.4" y2="534.5" stroke="#222" stroke-width="1.1" />
<line x1="79.8" y1="545.0" x2="85.4" y2="545.0" stroke="#222" stroke-width="1.1" />
<line x1="100.3" y1="536.0" x2="100.3" y2="550.4" stroke="#222" stroke-width="1.1" />
<line x1="97.5" y1="536.0" x2="103.1" y2="536.0" stroke="#222" stroke-width="1.1" />
<line x1="97.5" y1="550.4" x2="103.1" y2="550.4" stroke="#222" stroke-width="1.1" />
<line x1="130.0" y1="552.4" x2="130.0" y2="570.4" stroke="#8c8c8c" stroke-width="1.1" />
<line x1="127.2" y1="552.4" x2="132.8" y2="552.4" stroke="#8c8c8c" stroke-width="1.1" />
<line x1="127.2" y1="570.4" x2="132.8" y2="570.4" stroke="#8c8c8c" stroke-width="1.1" />
<line x1="148.1" y1="561.5" x2="148.1" y2="568.0" stroke="#222" stroke-width="1.1" />
<line x1="145.3" y1="561.5" x2="150.9" y2="561.5" stroke="#222" stroke-width="1.1" />
<line x1="145.3" y1="568.0" x2="150.9" y2="568.0" stroke="#222" stroke-width="1.1" />
<line x1="166.0" y1="574.3" x2="166.0" y2="589.3" stroke="#222" stroke-width="1.1" />
<line x1="163.2" y1="574.3" x2="168.8" y2="574.3" stroke="#222" stroke-width="1.1" />
<line x1="163.2" y1="589.3" x2="168.8" y2="589.3" stroke="#222" stroke-width="1.1" />
<line x1="195.4" y1="572.8" x2="195.4" y2="599.6" stroke="#8c8c8c" stroke-width="1.1" />
<line x1="192.6" y1="572.8" x2="198.2" y2="572.8" stroke="#8c8c8c" stroke-width="1.1" />
<line x1="192.6" y1="599.6" x2="198.2" y2="599.6" stroke="#8c8c8c" stroke-width="1.1" />
<line x1="213.1" y1="586.0" x2="213.1" y2="599.6" stroke="#222" stroke-width="1.1" />
<line x1="210.2" y1="586.0" x2="215.9" y2="586.0" stroke="#222" stroke-width="1.1" />
<line x1="210.2" y1="599.6" x2="215.9" y2="599.6" stroke="#222" stroke-width="1.1" />
<line x1="231.0" y1="594.5" x2="231.0" y2="608.0" stroke="#222" stroke-width="1.1" />
<line x1="228.2" y1="594.5" x2="233.8" y2="594.5" stroke="#222" stroke-width="1.1" />
<line x1="228.2" y1="608.0" x2="233.8" y2="608.0" stroke="#222" stroke-width="1.1" />
<line x1="261.0" y1="588.3" x2="261.0" y2="611.2" stroke="#8c8c8c" stroke-width="1.1" />
<line x1="258.2" y1="588.3" x2="263.8" y2="588.3" stroke="#8c8c8c" stroke-width="1.1" />
<line x1="258.2" y1="611.2" x2="263.8" y2="611.2" stroke="#8c8c8c" stroke-width="1.1" />
<line x1="279.0" y1="594.2" x2="279.0" y2="609.0" stroke="#222" stroke-width="1.1" />
<line x1="276.2" y1="594.2" x2="281.8" y2="594.2" stroke="#222" stroke-width="1.1" />
<line x1="276.2" y1="609.0" x2="281.8" y2="609.0" stroke="#222" stroke-width="1.1" />
<line x1="296.5" y1="602.9" x2="296.5" y2="614.9" stroke="#222" stroke-width="1.1" />
<line x1="293.7" y1="602.9" x2="299.3" y2="602.9" stroke="#222" stroke-width="1.1" />
<line x1="293.7" y1="614.9" x2="299.3" y2="614.9" stroke="#222" stroke-width="1.1" />
<circle cx="65.8" cy="526.6" r="2.0" fill="#848484" stroke="none" stroke-width="0"/>
<circle cx="63.4" cy="530.0" r="2.0" fill="#848484" stroke="none" stroke-width="0"/>
<circle cx="63.4" cy="534.6" r="2.0" fill="#848484" stroke="none" stroke-width="0"/>
<circle cx="61.0" cy="537.5" r="2.0" fill="#848484" stroke="none" stroke-width="0"/>
<circle cx="65.0" cy="537.5" r="2.0" fill="#848484" stroke="none" stroke-width="0"/>
<circle cx="69.0" cy="537.5" r="2.0" fill="#848484" stroke="none" stroke-width="0"/>
<circle cx="64.6" cy="549.2" r="2.0" fill="#848484" stroke="none" stroke-width="0"/>
<circle cx="64.6" cy="573.3" r="2.0" fill="#848484" stroke="none" stroke-width="0"/>
<circle cx="126.0" cy="536.0" r="2.0" fill="#848484" stroke="none" stroke-width="0"/>
<circle cx="134.0" cy="532.8" r="2.0" fill="#848484" stroke="none" stroke-width="0"/>
<circle cx="130.0" cy="545.1" r="2.0" fill="#848484" stroke="none" stroke-width="0"/>
<circle cx="130.0" cy="550.0" r="2.0" fill="#848484" stroke="none" stroke-width="0"/>
<circle cx="130.0" cy="570.4" r="2.0" fill="#848484" stroke="none" stroke-width="0"/>
<circle cx="126.0" cy="576.6" r="2.0" fill="#848484" stroke="none" stroke-width="0"/>
<circle cx="134.0" cy="577.4" r="2.0" fill="#848484" stroke="none" stroke-width="0"/>
<circle cx="130.0" cy="602.6" r="2.0" fill="#848484" stroke="none" stroke-width="0"/>
<circle cx="195.2" cy="520.7" r="2.0" fill="#848484" stroke="none" stroke-width="0"/>
<circle cx="195.2" cy="554.7" r="2.0" fill="#848484" stroke="none" stroke-width="0"/>
<circle cx="195.2" cy="562.6" r="2.0" fill="#848484" stroke="none" stroke-width="0"/>
<circle cx="195.2" cy="589.3" r="2.0" fill="#848484" stroke="none" stroke-width="0"/>
<circle cx="191.3" cy="604.9" r="2.0" fill="#848484" stroke="none" stroke-width="0"/>
<circle cx="199.4" cy="603.8" r="2.0" fill="#848484" stroke="none" stroke-width="0"/>
<circle cx="195.0" cy="617.8" r="2.0" fill="#848484" stroke="none" stroke-width="0"/>
<circle cx="195.0" cy="636.6" r="2.0" fill="#848484" stroke="none" stroke-width="0"/>
<circle cx="260.8" cy="554.7" r="2.0" fill="#848484" stroke="none" stroke-width="0"/>
<circle cx="260.8" cy="566.0" r="2.0" fill="#848484" stroke="none" stroke-width="0"/>
<circle cx="260.8" cy="574.7" r="2.0" fill="#848484" stroke="none" stroke-width="0"/>
<circle cx="256.3" cy="600.5" r="2.0" fill="#848484" stroke="none" stroke-width="0"/>
<circle cx="264.7" cy="604.2" r="2.0" fill="#848484" stroke="none" stroke-width="0"/>
<circle cx="260.7" cy="624.4" r="2.0" fill="#848484" stroke="none" stroke-width="0"/>
<circle cx="264.7" cy="635.3" r="2.0" fill="#848484" stroke="none" stroke-width="0"/>
<circle cx="256.3" cy="638.8" r="2.0" fill="#848484" stroke="none" stroke-width="0"/>
<circle cx="82.4" cy="525.1" r="1.5" fill="#fff" stroke="#000" stroke-width="1.1"/>
<circle cx="78.5" cy="533.9" r="1.5" fill="#fff" stroke="#000" stroke-width="1.1"/>
<circle cx="82.4" cy="535.3" r="1.5" fill="#fff" stroke="#000" stroke-width="1.1"/>
<circle cx="86.5" cy="539.7" r="1.5" fill="#fff" stroke="#000" stroke-width="1.1"/>
<circle cx="78.5" cy="542.6" r="1.5" fill="#fff" stroke="#000" stroke-width="1.1"/>
<circle cx="82.4" cy="545.1" r="1.5" fill="#fff" stroke="#000" stroke-width="1.1"/>
<circle cx="86.5" cy="545.1" r="1.5" fill="#fff" stroke="#000" stroke-width="1.1"/>
<circle cx="82.4" cy="554.6" r="1.5" fill="#fff" stroke="#000" stroke-width="1.1"/>
<circle cx="149.2" cy="556.8" r="1.5" fill="#fff" stroke="#000" stroke-width="1.1"/>
<circle cx="144.1" cy="558.7" r="1.5" fill="#fff" stroke="#000" stroke-width="1.1"/>
<circle cx="146.3" cy="561.6" r="1.5" fill="#fff" stroke="#000" stroke-width="1.1"/>
<circle cx="149.2" cy="561.6" r="1.5" fill="#fff" stroke="#000" stroke-width="1.1"/>
<circle cx="152.1" cy="561.6" r="1.5" fill="#fff" stroke="#000" stroke-width="1.1"/>
<circle cx="146.3" cy="567.0" r="1.5" fill="#fff" stroke="#000" stroke-width="1.1"/>
<circle cx="149.2" cy="568.2" r="1.5" fill="#fff" stroke="#000" stroke-width="1.1"/>
<circle cx="147.7" cy="588.3" r="1.5" fill="#fff" stroke="#000" stroke-width="1.1"/>
<circle cx="213.1" cy="557.7" r="1.5" fill="#fff" stroke="#000" stroke-width="1.1"/>
<circle cx="213.1" cy="572.3" r="1.5" fill="#fff" stroke="#000" stroke-width="1.1"/>
<circle cx="213.1" cy="582.5" r="1.5" fill="#fff" stroke="#000" stroke-width="1.1"/>
<circle cx="213.2" cy="597.7" r="1.5" fill="#fff" stroke="#000" stroke-width="1.1"/>
<circle cx="209.3" cy="605.8" r="1.5" fill="#fff" stroke="#000" stroke-width="1.1"/>
<circle cx="213.2" cy="607.1" r="1.5" fill="#fff" stroke="#000" stroke-width="1.1"/>
<circle cx="217.4" cy="608.2" r="1.5" fill="#fff" stroke="#000" stroke-width="1.1"/>
<circle cx="209.3" cy="611.5" r="1.5" fill="#fff" stroke="#000" stroke-width="1.1"/>
<circle cx="278.6" cy="565.3" r="1.5" fill="#fff" stroke="#000" stroke-width="1.1"/>
<circle cx="278.6" cy="575.5" r="1.5" fill="#fff" stroke="#000" stroke-width="1.1"/>
<circle cx="278.2" cy="594.4" r="1.5" fill="#fff" stroke="#000" stroke-width="1.1"/>
<circle cx="278.2" cy="600.0" r="1.5" fill="#fff" stroke="#000" stroke-width="1.1"/>
<circle cx="274.3" cy="610.4" r="1.5" fill="#fff" stroke="#000" stroke-width="1.1"/>
<circle cx="282.2" cy="610.4" r="1.5" fill="#fff" stroke="#000" stroke-width="1.1"/>
<circle cx="278.2" cy="623.5" r="1.5" fill="#fff" stroke="#000" stroke-width="1.1"/>
<circle cx="278.2" cy="630.0" r="1.5" fill="#fff" stroke="#000" stroke-width="1.1"/>
<path d="M98.5,512.2 A1.7,1.7 0 0 1 101.9,512.2 Z" fill="#000"/>
<path d="M98.5,512.2 A1.7,1.7 0 0 0 101.9,512.2 Z" fill="#fff"/>
<circle cx="100.2" cy="512.2" r="1.7" fill="none" stroke="#000" stroke-width="1.0"/>
<path d="M98.6,538.2 A1.7,1.7 0 0 1 102.0,538.2 Z" fill="#000"/>
<path d="M98.6,538.2 A1.7,1.7 0 0 0 102.0,538.2 Z" fill="#fff"/>
<circle cx="100.3" cy="538.2" r="1.7" fill="none" stroke="#000" stroke-width="1.0"/>
<path d="M95.0,539.0 A1.7,1.7 0 0 1 98.4,539.0 Z" fill="#000"/>
<path d="M95.0,539.0 A1.7,1.7 0 0 0 98.4,539.0 Z" fill="#fff"/>
<circle cx="96.7" cy="539.0" r="1.7" fill="none" stroke="#000" stroke-width="1.0"/>
<path d="M102.3,539.0 A1.7,1.7 0 0 1 105.7,539.0 Z" fill="#000"/>
<path d="M102.3,539.0 A1.7,1.7 0 0 0 105.7,539.0 Z" fill="#fff"/>
<circle cx="104.0" cy="539.0" r="1.7" fill="none" stroke="#000" stroke-width="1.0"/>
<path d="M98.6,547.0 A1.7,1.7 0 0 1 102.0,547.0 Z" fill="#000"/>
<path d="M98.6,547.0 A1.7,1.7 0 0 0 102.0,547.0 Z" fill="#fff"/>
<circle cx="100.3" cy="547.0" r="1.7" fill="none" stroke="#000" stroke-width="1.0"/>
<path d="M102.3,546.3 A1.7,1.7 0 0 1 105.7,546.3 Z" fill="#000"/>
<path d="M102.3,546.3 A1.7,1.7 0 0 0 105.7,546.3 Z" fill="#fff"/>
<circle cx="104.0" cy="546.3" r="1.7" fill="none" stroke="#000" stroke-width="1.0"/>
<path d="M98.6,556.5 A1.7,1.7 0 0 1 102.0,556.5 Z" fill="#000"/>
<path d="M98.6,556.5 A1.7,1.7 0 0 0 102.0,556.5 Z" fill="#fff"/>
<circle cx="100.3" cy="556.5" r="1.7" fill="none" stroke="#000" stroke-width="1.0"/>
<path d="M98.6,577.7 A1.7,1.7 0 0 1 102.0,577.7 Z" fill="#000"/>
<path d="M98.6,577.7 A1.7,1.7 0 0 0 102.0,577.7 Z" fill="#fff"/>
<circle cx="100.3" cy="577.7" r="1.7" fill="none" stroke="#000" stroke-width="1.0"/>
<path d="M159.9,556.2 A1.7,1.7 0 0 1 163.3,556.2 Z" fill="#000"/>
<path d="M159.9,556.2 A1.7,1.7 0 0 0 163.3,556.2 Z" fill="#fff"/>
<circle cx="161.6" cy="556.2" r="1.7" fill="none" stroke="#000" stroke-width="1.0"/>
<path d="M164.0,559.4 A1.7,1.7 0 0 1 167.4,559.4 Z" fill="#000"/>
<path d="M164.0,559.4 A1.7,1.7 0 0 0 167.4,559.4 Z" fill="#fff"/>
<circle cx="165.7" cy="559.4" r="1.7" fill="none" stroke="#000" stroke-width="1.0"/>
<path d="M164.0,563.8 A1.7,1.7 0 0 1 167.4,563.8 Z" fill="#000"/>
<path d="M164.0,563.8 A1.7,1.7 0 0 0 167.4,563.8 Z" fill="#fff"/>
<circle cx="165.7" cy="563.8" r="1.7" fill="none" stroke="#000" stroke-width="1.0"/>
<path d="M164.0,570.4 A1.7,1.7 0 0 1 167.4,570.4 Z" fill="#000"/>
<path d="M164.0,570.4 A1.7,1.7 0 0 0 167.4,570.4 Z" fill="#fff"/>
<circle cx="165.7" cy="570.4" r="1.7" fill="none" stroke="#000" stroke-width="1.0"/>
<path d="M159.9,598.1 A1.7,1.7 0 0 1 163.3,598.1 Z" fill="#000"/>
<path d="M159.9,598.1 A1.7,1.7 0 0 0 163.3,598.1 Z" fill="#fff"/>
<circle cx="161.6" cy="598.1" r="1.7" fill="none" stroke="#000" stroke-width="1.0"/>
<path d="M164.0,599.6 A1.7,1.7 0 0 1 167.4,599.6 Z" fill="#000"/>
<path d="M164.0,599.6 A1.7,1.7 0 0 0 167.4,599.6 Z" fill="#fff"/>
<circle cx="165.7" cy="599.6" r="1.7" fill="none" stroke="#000" stroke-width="1.0"/>
<path d="M167.9,598.8 A1.7,1.7 0 0 1 171.3,598.8 Z" fill="#000"/>
<path d="M167.9,598.8 A1.7,1.7 0 0 0 171.3,598.8 Z" fill="#fff"/>
<circle cx="169.6" cy="598.8" r="1.7" fill="none" stroke="#000" stroke-width="1.0"/>
<path d="M164.0,609.3 A1.7,1.7 0 0 1 167.4,609.3 Z" fill="#000"/>
<path d="M164.0,609.3 A1.7,1.7 0 0 0 167.4,609.3 Z" fill="#fff"/>
<circle cx="165.7" cy="609.3" r="1.7" fill="none" stroke="#000" stroke-width="1.0"/>
<path d="M229.5,572.6 A1.7,1.7 0 0 1 232.9,572.6 Z" fill="#000"/>
<path d="M229.5,572.6 A1.7,1.7 0 0 0 232.9,572.6 Z" fill="#fff"/>
<circle cx="231.2" cy="572.6" r="1.7" fill="none" stroke="#000" stroke-width="1.0"/>
<path d="M225.5,579.9 A1.7,1.7 0 0 1 228.9,579.9 Z" fill="#000"/>
<path d="M225.5,579.9 A1.7,1.7 0 0 0 228.9,579.9 Z" fill="#fff"/>
<circle cx="227.2" cy="579.9" r="1.7" fill="none" stroke="#000" stroke-width="1.0"/>
<path d="M233.4,579.9 A1.7,1.7 0 0 1 236.8,579.9 Z" fill="#000"/>
<path d="M233.4,579.9 A1.7,1.7 0 0 0 236.8,579.9 Z" fill="#fff"/>
<circle cx="235.1" cy="579.9" r="1.7" fill="none" stroke="#000" stroke-width="1.0"/>
<path d="M229.0,607.0 A1.7,1.7 0 0 1 232.4,607.0 Z" fill="#000"/>
<path d="M229.0,607.0 A1.7,1.7 0 0 0 232.4,607.0 Z" fill="#fff"/>
<circle cx="230.7" cy="607.0" r="1.7" fill="none" stroke="#000" stroke-width="1.0"/>
<path d="M225.1,616.7 A1.7,1.7 0 0 1 228.5,616.7 Z" fill="#000"/>
<path d="M225.1,616.7 A1.7,1.7 0 0 0 228.5,616.7 Z" fill="#fff"/>
<circle cx="226.8" cy="616.7" r="1.7" fill="none" stroke="#000" stroke-width="1.0"/>
<path d="M233.4,614.1 A1.7,1.7 0 0 1 236.8,614.1 Z" fill="#000"/>
<path d="M233.4,614.1 A1.7,1.7 0 0 0 236.8,614.1 Z" fill="#fff"/>
<circle cx="235.1" cy="614.1" r="1.7" fill="none" stroke="#000" stroke-width="1.0"/>
<path d="M225.1,621.7 A1.7,1.7 0 0 1 228.5,621.7 Z" fill="#000"/>
<path d="M225.1,621.7 A1.7,1.7 0 0 0 228.5,621.7 Z" fill="#fff"/>
<circle cx="226.8" cy="621.7" r="1.7" fill="none" stroke="#000" stroke-width="1.0"/>
<path d="M233.4,621.7 A1.7,1.7 0 0 1 236.8,621.7 Z" fill="#000"/>
<path d="M233.4,621.7 A1.7,1.7 0 0 0 236.8,621.7 Z" fill="#fff"/>
<circle cx="235.1" cy="621.7" r="1.7" fill="none" stroke="#000" stroke-width="1.0"/>
<path d="M294.4,583.8 A1.7,1.7 0 0 1 297.8,583.8 Z" fill="#000"/>
<path d="M294.4,583.8 A1.7,1.7 0 0 0 297.8,583.8 Z" fill="#fff"/>
<circle cx="296.1" cy="583.8" r="1.7" fill="none" stroke="#000" stroke-width="1.0"/>
<path d="M294.5,598.1 A1.7,1.7 0 0 1 297.9,598.1 Z" fill="#000"/>
<path d="M294.5,598.1 A1.7,1.7 0 0 0 297.9,598.1 Z" fill="#fff"/>
<circle cx="296.2" cy="598.1" r="1.7" fill="none" stroke="#000" stroke-width="1.0"/>
<path d="M290.8,601.0 A1.7,1.7 0 0 1 294.2,601.0 Z" fill="#000"/>
<path d="M290.8,601.0 A1.7,1.7 0 0 0 294.2,601.0 Z" fill="#fff"/>
<circle cx="292.5" cy="601.0" r="1.7" fill="none" stroke="#000" stroke-width="1.0"/>
<path d="M298.8,599.6 A1.7,1.7 0 0 1 302.2,599.6 Z" fill="#000"/>
<path d="M298.8,599.6 A1.7,1.7 0 0 0 302.2,599.6 Z" fill="#fff"/>
<circle cx="300.5" cy="599.6" r="1.7" fill="none" stroke="#000" stroke-width="1.0"/>
<path d="M294.5,612.6 A1.7,1.7 0 0 1 297.9,612.6 Z" fill="#000"/>
<path d="M294.5,612.6 A1.7,1.7 0 0 0 297.9,612.6 Z" fill="#fff"/>
<circle cx="296.2" cy="612.6" r="1.7" fill="none" stroke="#000" stroke-width="1.0"/>
<path d="M294.5,621.3 A1.7,1.7 0 0 1 297.9,621.3 Z" fill="#000"/>
<path d="M294.5,621.3 A1.7,1.7 0 0 0 297.9,621.3 Z" fill="#fff"/>
<circle cx="296.2" cy="621.3" r="1.7" fill="none" stroke="#000" stroke-width="1.0"/>
<path d="M294.5,626.1 A1.7,1.7 0 0 1 297.9,626.1 Z" fill="#000"/>
<path d="M294.5,626.1 A1.7,1.7 0 0 0 297.9,626.1 Z" fill="#fff"/>
<circle cx="296.2" cy="626.1" r="1.7" fill="none" stroke="#000" stroke-width="1.0"/>
<path d="M294.5,633.4 A1.7,1.7 0 0 1 297.9,633.4 Z" fill="#000"/>
<path d="M294.5,633.4 A1.7,1.7 0 0 0 297.9,633.4 Z" fill="#fff"/>
<circle cx="296.2" cy="633.4" r="1.7" fill="none" stroke="#000" stroke-width="1.0"/>
<circle cx="107.7" cy="730.1" r="1.8" fill="#848484" stroke="none" stroke-width="0"/>
<text x="121.8" y="733.1" font-size="8.6" fill="#222" textLength="23.0" lengthAdjust="spacingAndGlyphs">DDT1</text>
<circle cx="158.7" cy="730.1" r="1.6" fill="#fff" stroke="#000" stroke-width="1.0"/>
<text x="173.2" y="733.1" font-size="8.6" fill="#222" textLength="23.0" lengthAdjust="spacingAndGlyphs">DDT2</text>
<path d="M219.5,730.1 A1.8,1.8 0 0 1 223.1,730.1 Z" fill="#000"/>
<path d="M219.5,730.1 A1.8,1.8 0 0 0 223.1,730.1 Z" fill="#fff"/>
<circle cx="221.3" cy="730.1" r="1.8" fill="none" stroke="#000" stroke-width="0.9"/>
<text x="235.8" y="733.1" font-size="8.6" fill="#222" textLength="23.6" lengthAdjust="spacingAndGlyphs">DDT3</text>
<text x="363.4" y="490.2" font-size="22.4">D</text>
<line x1="428.4" y1="501.3" x2="428.4" y2="681.8" stroke="#000" stroke-width="1.7" />
<line x1="423.0" y1="502.2" x2="429.2" y2="502.2" stroke="#000" stroke-width="1.5" />
<text x="422.1" y="505.4" font-size="9.5" font-weight="bold" text-anchor="end" textLength="9.7" lengthAdjust="spacingAndGlyphs">20</text>
<line x1="423.0" y1="527.7" x2="429.2" y2="527.7" stroke="#000" stroke-width="1.5" />
<text x="422.1" y="530.9" font-size="9.5" font-weight="bold" text-anchor="end" textLength="4.9" lengthAdjust="spacingAndGlyphs">0</text>
<line x1="423.0" y1="553.2" x2="429.2" y2="553.2" stroke="#000" stroke-width="1.5" />
<text x="422.1" y="556.4" font-size="9.5" font-weight="bold" text-anchor="end" textLength="12.6" lengthAdjust="spacingAndGlyphs">-20</text>
<line x1="423.0" y1="578.8" x2="429.2" y2="578.8" stroke="#000" stroke-width="1.5" />
<text x="422.1" y="582.0" font-size="9.5" font-weight="bold" text-anchor="end" textLength="12.6" lengthAdjust="spacingAndGlyphs">-40</text>
<line x1="423.0" y1="604.3" x2="429.2" y2="604.3" stroke="#000" stroke-width="1.5" />
<text x="422.1" y="607.5" font-size="9.5" font-weight="bold" text-anchor="end" textLength="12.6" lengthAdjust="spacingAndGlyphs">-60</text>
<line x1="423.0" y1="629.9" x2="429.2" y2="629.9" stroke="#000" stroke-width="1.5" />
<text x="422.1" y="633.1" font-size="9.5" font-weight="bold" text-anchor="end" textLength="12.6" lengthAdjust="spacingAndGlyphs">-80</text>
<line x1="423.0" y1="655.4" x2="429.2" y2="655.4" stroke="#000" stroke-width="1.5" />
<text x="422.1" y="658.6" font-size="9.5" font-weight="bold" text-anchor="end" textLength="17.5" lengthAdjust="spacingAndGlyphs">-100</text>
<line x1="423.0" y1="680.9" x2="429.2" y2="680.9" stroke="#000" stroke-width="1.5" />
<text x="422.1" y="684.1" font-size="9.5" font-weight="bold" text-anchor="end" textLength="17.5" lengthAdjust="spacingAndGlyphs">-120</text>
<line x1="428.4" y1="527.7" x2="685.0" y2="527.7" stroke="#000" stroke-width="1.6" />
<line x1="427.6" y1="681.0" x2="685.0" y2="681.0" stroke="#000" stroke-width="1.7" />
<line x1="457.4" y1="681.0" x2="457.4" y2="686.4" stroke="#000" stroke-width="1.5" />
<text x="457.4" y="696.7" font-size="9.3" font-weight="bold" text-anchor="middle">5sec</text>
<line x1="523.0" y1="681.0" x2="523.0" y2="686.4" stroke="#000" stroke-width="1.5" />
<text x="523.0" y="696.7" font-size="9.3" font-weight="bold" text-anchor="middle">10sec</text>
<line x1="589.4" y1="681.0" x2="589.4" y2="686.4" stroke="#000" stroke-width="1.5" />
<text x="589.4" y="696.7" font-size="9.3" font-weight="bold" text-anchor="middle">20sec</text>
<line x1="655.4" y1="681.0" x2="655.4" y2="686.4" stroke="#000" stroke-width="1.5" />
<text x="655.4" y="696.7" font-size="9.3" font-weight="bold" text-anchor="middle">40sec</text>
<text x="488.2" y="506.3" font-size="12" font-weight="bold" textLength="136.8" lengthAdjust="spacingAndGlyphs">Food Restricted (n=12)</text>
<text transform="translate(395.8,593.6) rotate(-90)" font-size="12.6" font-weight="bold" text-anchor="middle" textLength="132" lengthAdjust="spacingAndGlyphs">% decrease LL reward</text>
<text x="528.1" y="713.7" font-size="10.6" font-weight="bold" textLength="56.9" lengthAdjust="spacingAndGlyphs">Delay (sec)</text>
<rect x="437.9" y="527.9" width="14.2" height="11.7" fill="#fff" stroke="#000" stroke-width="1.75" />
<rect x="463.0" y="527.9" width="14.4" height="14.8" fill="#fddcbf" stroke="#f36d1e" stroke-width="1.75" />
<rect x="504.0" y="527.9" width="14.1" height="28.5" fill="#fff" stroke="#000" stroke-width="1.75" />
<rect x="528.9" y="527.9" width="14.2" height="36.7" fill="#fddcbf" stroke="#f36d1e" stroke-width="1.75" />
<rect x="570.5" y="527.9" width="13.9" height="56.2" fill="#fff" stroke="#000" stroke-width="1.75" />
<rect x="595.2" y="527.9" width="14.0" height="59.9" fill="#fddcbf" stroke="#f36d1e" stroke-width="1.75" />
<rect x="636.1" y="527.9" width="14.3" height="55.9" fill="#fff" stroke="#000" stroke-width="1.75" />
<rect x="660.8" y="527.9" width="14.6" height="80.2" fill="#fddcbf" stroke="#f36d1e" stroke-width="1.75" />
<line x1="445.0" y1="535.4" x2="445.0" y2="544.7" stroke="#777" stroke-width="1.2" />
<line x1="441.0" y1="535.4" x2="449.0" y2="535.4" stroke="#777" stroke-width="1.2" />
<line x1="441.0" y1="544.7" x2="449.0" y2="544.7" stroke="#777" stroke-width="1.2" />
<line x1="470.2" y1="538.5" x2="470.2" y2="547.0" stroke="#f36d1e" stroke-width="1.2" />
<line x1="466.2" y1="538.5" x2="474.2" y2="538.5" stroke="#f36d1e" stroke-width="1.2" />
<line x1="466.2" y1="547.0" x2="474.2" y2="547.0" stroke="#f36d1e" stroke-width="1.2" />
<line x1="511.0" y1="552.4" x2="511.0" y2="561.9" stroke="#777" stroke-width="1.2" />
<line x1="507.0" y1="552.4" x2="515.0" y2="552.4" stroke="#777" stroke-width="1.2" />
<line x1="507.0" y1="561.9" x2="515.0" y2="561.9" stroke="#777" stroke-width="1.2" />
<line x1="536.0" y1="559.3" x2="536.0" y2="571.0" stroke="#f36d1e" stroke-width="1.2" />
<line x1="532.0" y1="559.3" x2="540.0" y2="559.3" stroke="#f36d1e" stroke-width="1.2" />
<line x1="532.0" y1="571.0" x2="540.0" y2="571.0" stroke="#f36d1e" stroke-width="1.2" />
<line x1="577.4" y1="579.5" x2="577.4" y2="590.0" stroke="#222" stroke-width="1.2" />
<line x1="573.4" y1="579.5" x2="581.4" y2="579.5" stroke="#222" stroke-width="1.2" />
<line x1="573.4" y1="590.0" x2="581.4" y2="590.0" stroke="#222" stroke-width="1.2" />
<line x1="602.1" y1="579.5" x2="602.1" y2="597.3" stroke="#f36d1e" stroke-width="1.2" />
<line x1="598.1" y1="579.5" x2="606.1" y2="579.5" stroke="#f36d1e" stroke-width="1.2" />
<line x1="598.1" y1="597.3" x2="606.1" y2="597.3" stroke="#f36d1e" stroke-width="1.2" />
<line x1="643.2" y1="577.3" x2="643.2" y2="592.2" stroke="#222" stroke-width="1.2" />
<line x1="639.2" y1="577.3" x2="647.2" y2="577.3" stroke="#222" stroke-width="1.2" />
<line x1="639.2" y1="592.2" x2="647.2" y2="592.2" stroke="#222" stroke-width="1.2" />
<line x1="668.0" y1="599.3" x2="668.0" y2="617.6" stroke="#f36d1e" stroke-width="1.2" />
<line x1="664.0" y1="599.3" x2="672.0" y2="599.3" stroke="#f36d1e" stroke-width="1.2" />
<line x1="664.0" y1="617.6" x2="672.0" y2="617.6" stroke="#f36d1e" stroke-width="1.2" />
<path d="M445.1,524.1 L447.5,528.3 L442.8,528.3 Z" fill="#f36d1e"/>
<path d="M438.7,527.6 L441.1,531.8 L436.3,531.8 Z" fill="#f36d1e"/>
<path d="M441.9,529.5 L444.2,533.7 L439.5,533.7 Z" fill="#f36d1e"/>
<path d="M445.1,528.8 L447.5,533.0 L442.8,533.0 Z" fill="#f36d1e"/>
<path d="M448.5,528.0 L450.9,532.2 L446.1,532.2 Z" fill="#f36d1e"/>
<path d="M451.4,528.8 L453.8,533.0 L449.0,533.0 Z" fill="#f36d1e"/>
<path d="M445.1,534.3 L447.5,538.5 L442.8,538.5 Z" fill="#f36d1e"/>
<path d="M445.1,541.2 L447.5,545.4 L442.8,545.4 Z" fill="#f36d1e"/>
<path d="M445.1,546.3 L447.5,550.5 L442.8,550.5 Z" fill="#f36d1e"/>
<path d="M445.1,559.4 L447.5,563.6 L442.8,563.6 Z" fill="#f36d1e"/>
<path d="M445.1,578.0 L447.5,582.2 L442.8,582.2 Z" fill="#f36d1e"/>
<path d="M511.0,525.9 L513.4,530.1 L508.6,530.1 Z" fill="#f36d1e"/>
<path d="M504.7,538.3 L507.1,542.5 L502.3,542.5 Z" fill="#f36d1e"/>
<path d="M511.0,541.2 L513.4,545.4 L508.6,545.4 Z" fill="#f36d1e"/>
<path d="M511.0,549.5 L513.4,553.7 L508.6,553.7 Z" fill="#f36d1e"/>
<path d="M504.7,551.4 L507.1,555.6 L502.3,555.6 Z" fill="#f36d1e"/>
<path d="M511.0,554.3 L513.4,558.5 L508.6,558.5 Z" fill="#f36d1e"/>
<path d="M504.7,556.5 L507.1,560.7 L502.3,560.7 Z" fill="#f36d1e"/>
<path d="M517.5,556.5 L519.9,560.7 L515.1,560.7 Z" fill="#f36d1e"/>
<path d="M511.0,565.6 L513.4,569.8 L508.6,569.8 Z" fill="#f36d1e"/>
<path d="M517.5,563.8 L519.9,568.0 L515.1,568.0 Z" fill="#f36d1e"/>
<path d="M511.0,573.6 L513.4,577.8 L508.6,577.8 Z" fill="#f36d1e"/>
<path d="M511.0,583.5 L513.4,587.7 L508.6,587.7 Z" fill="#f36d1e"/>
<path d="M577.1,542.2 L579.5,546.4 L574.8,546.4 Z" fill="#f36d1e"/>
<path d="M570.8,564.5 L573.1,568.7 L568.4,568.7 Z" fill="#f36d1e"/>
<path d="M583.5,564.1 L585.9,568.3 L581.1,568.3 Z" fill="#f36d1e"/>
<path d="M577.1,567.5 L579.5,571.7 L574.8,571.7 Z" fill="#f36d1e"/>
<path d="M577.1,581.3 L579.5,585.5 L574.8,585.5 Z" fill="#f36d1e"/>
<path d="M577.1,586.4 L579.5,590.6 L574.8,590.6 Z" fill="#f36d1e"/>
<path d="M570.7,590.5 L573.1,594.7 L568.4,594.7 Z" fill="#f36d1e"/>
<path d="M577.6,592.4 L580.0,596.6 L575.2,596.6 Z" fill="#f36d1e"/>
<path d="M570.7,595.4 L573.1,599.6 L568.4,599.6 Z" fill="#f36d1e"/>
<path d="M577.6,599.3 L580.0,603.5 L575.2,603.5 Z" fill="#f36d1e"/>
<path d="M583.5,597.7 L585.9,601.9 L581.1,601.9 Z" fill="#f36d1e"/>
<path d="M577.6,608.8 L580.0,613.0 L575.2,613.0 Z" fill="#f36d1e"/>
<path d="M643.1,547.0 L645.5,551.2 L640.8,551.2 Z" fill="#f36d1e"/>
<path d="M636.8,549.5 L639.1,553.7 L634.4,553.7 Z" fill="#f36d1e"/>
<path d="M649.5,551.0 L651.9,555.2 L647.1,555.2 Z" fill="#f36d1e"/>
<path d="M643.1,556.5 L645.5,560.7 L640.8,560.7 Z" fill="#f36d1e"/>
<path d="M643.1,578.4 L645.5,582.6 L640.8,582.6 Z" fill="#f36d1e"/>
<path d="M643.1,583.1 L645.5,587.3 L640.8,587.3 Z" fill="#f36d1e"/>
<path d="M640.3,591.4 L642.6,595.6 L637.9,595.6 Z" fill="#f36d1e"/>
<path d="M646.6,591.0 L649.0,595.2 L644.2,595.2 Z" fill="#f36d1e"/>
<path d="M640.3,605.6 L642.6,609.8 L637.9,609.8 Z" fill="#f36d1e"/>
<path d="M646.6,604.8 L649.0,609.0 L644.2,609.0 Z" fill="#f36d1e"/>
<path d="M643.0,609.8 L645.4,614.0 L640.6,614.0 Z" fill="#f36d1e"/>
<path d="M643.0,617.7 L645.4,621.9 L640.6,621.9 Z" fill="#f36d1e"/>
<path d="M466.4,526.8 L468.5,530.6 L464.3,530.6 Z" fill="#fff" stroke="#f36d1e" stroke-width="1.1" stroke-linejoin="miter"/>
<path d="M469.6,531.2 L471.7,535.0 L467.5,535.0 Z" fill="#fff" stroke="#f36d1e" stroke-width="1.1" stroke-linejoin="miter"/>
<path d="M463.5,535.1 L465.6,538.9 L461.4,538.9 Z" fill="#fff" stroke="#f36d1e" stroke-width="1.1" stroke-linejoin="miter"/>
<path d="M466.7,538.5 L468.8,542.3 L464.6,542.3 Z" fill="#fff" stroke="#f36d1e" stroke-width="1.1" stroke-linejoin="miter"/>
<path d="M469.6,538.5 L471.7,542.3 L467.5,542.3 Z" fill="#fff" stroke="#f36d1e" stroke-width="1.1" stroke-linejoin="miter"/>
<path d="M472.8,538.5 L474.9,542.3 L470.7,542.3 Z" fill="#fff" stroke="#f36d1e" stroke-width="1.1" stroke-linejoin="miter"/>
<path d="M476.2,538.5 L478.3,542.3 L474.1,542.3 Z" fill="#fff" stroke="#f36d1e" stroke-width="1.1" stroke-linejoin="miter"/>
<path d="M466.4,544.3 L468.5,548.1 L464.3,548.1 Z" fill="#fff" stroke="#f36d1e" stroke-width="1.1" stroke-linejoin="miter"/>
<path d="M469.6,544.3 L471.7,548.1 L467.5,548.1 Z" fill="#fff" stroke="#f36d1e" stroke-width="1.1" stroke-linejoin="miter"/>
<path d="M472.8,544.3 L474.9,548.1 L470.7,548.1 Z" fill="#fff" stroke="#f36d1e" stroke-width="1.1" stroke-linejoin="miter"/>
<path d="M469.6,549.1 L471.7,552.9 L467.5,552.9 Z" fill="#fff" stroke="#f36d1e" stroke-width="1.1" stroke-linejoin="miter"/>
<path d="M469.6,562.8 L471.7,566.6 L467.5,566.6 Z" fill="#fff" stroke="#f36d1e" stroke-width="1.1" stroke-linejoin="miter"/>
<path d="M535.8,537.0 L537.9,540.8 L533.7,540.8 Z" fill="#fff" stroke="#f36d1e" stroke-width="1.1" stroke-linejoin="miter"/>
<path d="M535.8,543.6 L537.9,547.4 L533.7,547.4 Z" fill="#fff" stroke="#f36d1e" stroke-width="1.1" stroke-linejoin="miter"/>
<path d="M529.2,546.2 L531.3,550.0 L527.1,550.0 Z" fill="#fff" stroke="#f36d1e" stroke-width="1.1" stroke-linejoin="miter"/>
<path d="M535.8,549.4 L537.9,553.2 L533.7,553.2 Z" fill="#fff" stroke="#f36d1e" stroke-width="1.1" stroke-linejoin="miter"/>
<path d="M529.2,550.9 L531.3,554.7 L527.1,554.7 Z" fill="#fff" stroke="#f36d1e" stroke-width="1.1" stroke-linejoin="miter"/>
<path d="M542.3,550.9 L544.4,554.7 L540.2,554.7 Z" fill="#fff" stroke="#f36d1e" stroke-width="1.1" stroke-linejoin="miter"/>
<path d="M535.8,559.6 L537.9,563.4 L533.7,563.4 Z" fill="#fff" stroke="#f36d1e" stroke-width="1.1" stroke-linejoin="miter"/>
<path d="M535.8,566.5 L537.9,570.3 L533.7,570.3 Z" fill="#fff" stroke="#f36d1e" stroke-width="1.1" stroke-linejoin="miter"/>
<path d="M535.8,574.2 L537.9,578.0 L533.7,578.0 Z" fill="#fff" stroke="#f36d1e" stroke-width="1.1" stroke-linejoin="miter"/>
<path d="M535.8,580.1 L537.9,583.9 L533.7,583.9 Z" fill="#fff" stroke="#f36d1e" stroke-width="1.1" stroke-linejoin="miter"/>
<path d="M535.8,594.7 L537.9,598.5 L533.7,598.5 Z" fill="#fff" stroke="#f36d1e" stroke-width="1.1" stroke-linejoin="miter"/>
<path d="M535.8,602.0 L537.9,605.8 L533.7,605.8 Z" fill="#fff" stroke="#f36d1e" stroke-width="1.1" stroke-linejoin="miter"/>
<path d="M601.8,544.3 L603.9,548.1 L599.7,548.1 Z" fill="#fff" stroke="#f36d1e" stroke-width="1.1" stroke-linejoin="miter"/>
<path d="M598.1,553.8 L600.2,557.6 L596.0,557.6 Z" fill="#fff" stroke="#f36d1e" stroke-width="1.1" stroke-linejoin="miter"/>
<path d="M605.7,553.5 L607.8,557.3 L603.6,557.3 Z" fill="#fff" stroke="#f36d1e" stroke-width="1.1" stroke-linejoin="miter"/>
<path d="M601.8,557.9 L603.9,561.7 L599.7,561.7 Z" fill="#fff" stroke="#f36d1e" stroke-width="1.1" stroke-linejoin="miter"/>
<path d="M605.7,570.6 L607.8,574.4 L603.6,574.4 Z" fill="#fff" stroke="#f36d1e" stroke-width="1.1" stroke-linejoin="miter"/>
<path d="M598.1,573.9 L600.2,577.7 L596.0,577.7 Z" fill="#fff" stroke="#f36d1e" stroke-width="1.1" stroke-linejoin="miter"/>
<path d="M601.6,593.6 L603.7,597.4 L599.5,597.4 Z" fill="#fff" stroke="#f36d1e" stroke-width="1.1" stroke-linejoin="miter"/>
<path d="M598.3,608.0 L600.4,611.8 L596.2,611.8 Z" fill="#fff" stroke="#f36d1e" stroke-width="1.1" stroke-linejoin="miter"/>
<path d="M606.2,610.0 L608.3,613.8 L604.1,613.8 Z" fill="#fff" stroke="#f36d1e" stroke-width="1.1" stroke-linejoin="miter"/>
<path d="M598.3,614.9 L600.4,618.7 L596.2,618.7 Z" fill="#fff" stroke="#f36d1e" stroke-width="1.1" stroke-linejoin="miter"/>
<path d="M606.2,615.3 L608.3,619.1 L604.1,619.1 Z" fill="#fff" stroke="#f36d1e" stroke-width="1.1" stroke-linejoin="miter"/>
<path d="M601.6,641.3 L603.7,645.1 L599.5,645.1 Z" fill="#fff" stroke="#f36d1e" stroke-width="1.1" stroke-linejoin="miter"/>
<path d="M667.9,549.4 L670.0,553.2 L665.8,553.2 Z" fill="#fff" stroke="#f36d1e" stroke-width="1.1" stroke-linejoin="miter"/>
<path d="M667.9,560.8 L670.0,564.6 L665.8,564.6 Z" fill="#fff" stroke="#f36d1e" stroke-width="1.1" stroke-linejoin="miter"/>
<path d="M664.6,586.2 L666.7,590.0 L662.5,590.0 Z" fill="#fff" stroke="#f36d1e" stroke-width="1.1" stroke-linejoin="miter"/>
<path d="M671.1,583.3 L673.2,587.1 L669.0,587.1 Z" fill="#fff" stroke="#f36d1e" stroke-width="1.1" stroke-linejoin="miter"/>
<path d="M662.0,612.3 L664.1,616.1 L659.9,616.1 Z" fill="#fff" stroke="#f36d1e" stroke-width="1.1" stroke-linejoin="miter"/>
<path d="M667.9,614.3 L670.0,618.1 L665.8,618.1 Z" fill="#fff" stroke="#f36d1e" stroke-width="1.1" stroke-linejoin="miter"/>
<path d="M674.6,612.3 L676.7,616.1 L672.5,616.1 Z" fill="#fff" stroke="#f36d1e" stroke-width="1.1" stroke-linejoin="miter"/>
<path d="M667.9,622.8 L670.0,626.6 L665.8,626.6 Z" fill="#fff" stroke="#f36d1e" stroke-width="1.1" stroke-linejoin="miter"/>
<path d="M667.9,626.5 L670.0,630.3 L665.8,630.3 Z" fill="#fff" stroke="#f36d1e" stroke-width="1.1" stroke-linejoin="miter"/>
<path d="M664.7,635.0 L666.8,638.8 L662.6,638.8 Z" fill="#fff" stroke="#f36d1e" stroke-width="1.1" stroke-linejoin="miter"/>
<path d="M671.2,635.0 L673.3,638.8 L669.1,638.8 Z" fill="#fff" stroke="#f36d1e" stroke-width="1.1" stroke-linejoin="miter"/>
<path d="M667.9,640.9 L670.0,644.7 L665.8,644.7 Z" fill="#fff" stroke="#f36d1e" stroke-width="1.1" stroke-linejoin="miter"/>
<path d="M642.6,627.4 L642.6,662 L668.2,662 L668.2,651.1" stroke="#000" stroke-width="1.5" fill="none" />
<line x1="655.9" y1="671.0" x2="655.9" y2="676.8" stroke="#000" stroke-width="1.2" />
<line x1="653.4" y1="672.4" x2="658.4" y2="675.4" stroke="#000" stroke-width="1.2" />
<line x1="653.4" y1="675.4" x2="658.4" y2="672.4" stroke="#000" stroke-width="1.2" />
<path d="M506.6,728.4 L508.6,732.0 L504.6,732.0 Z" fill="#f36d1e"/>
<text x="521.5" y="732.9" font-size="8.6" font-weight="bold" textLength="23.6" lengthAdjust="spacingAndGlyphs">DDT1</text>
<path d="M562.7,728.4 L564.7,732.0 L560.7,732.0 Z" fill="#fff" stroke="#f36d1e" stroke-width="1.1" stroke-linejoin="miter"/>
<text x="577.2" y="732.9" font-size="8.6" font-weight="bold" textLength="23.9" lengthAdjust="spacingAndGlyphs">DDT2</text>
<text x="150.1" y="772.8" font-size="23.2">E</text>
<line x1="238.3" y1="781.9" x2="238.3" y2="960.5" stroke="#000" stroke-width="1.7" />
<line x1="232.9" y1="782.8" x2="239.2" y2="782.8" stroke="#000" stroke-width="1.5" />
<text x="231.1" y="786.0" font-size="9.5" font-weight="bold" text-anchor="end" textLength="9.7" lengthAdjust="spacingAndGlyphs">20</text>
<line x1="232.9" y1="808.1" x2="239.2" y2="808.1" stroke="#000" stroke-width="1.5" />
<text x="231.1" y="811.3" font-size="9.5" font-weight="bold" text-anchor="end" textLength="4.9" lengthAdjust="spacingAndGlyphs">0</text>
<line x1="232.9" y1="833.4" x2="239.2" y2="833.4" stroke="#000" stroke-width="1.5" />
<text x="231.1" y="836.6" font-size="9.5" font-weight="bold" text-anchor="end" textLength="12.6" lengthAdjust="spacingAndGlyphs">-20</text>
<line x1="232.9" y1="858.7" x2="239.2" y2="858.7" stroke="#000" stroke-width="1.5" />
<text x="231.1" y="861.9" font-size="9.5" font-weight="bold" text-anchor="end" textLength="12.6" lengthAdjust="spacingAndGlyphs">-40</text>
<line x1="232.9" y1="883.9" x2="239.2" y2="883.9" stroke="#000" stroke-width="1.5" />
<text x="231.1" y="887.1" font-size="9.5" font-weight="bold" text-anchor="end" textLength="12.6" lengthAdjust="spacingAndGlyphs">-60</text>
<line x1="232.9" y1="909.2" x2="239.2" y2="909.2" stroke="#000" stroke-width="1.5" />
<text x="231.1" y="912.4" font-size="9.5" font-weight="bold" text-anchor="end" textLength="12.6" lengthAdjust="spacingAndGlyphs">-80</text>
<line x1="232.9" y1="934.5" x2="239.2" y2="934.5" stroke="#000" stroke-width="1.5" />
<text x="231.1" y="937.7" font-size="9.5" font-weight="bold" text-anchor="end" textLength="17.5" lengthAdjust="spacingAndGlyphs">-100</text>
<line x1="232.9" y1="959.8" x2="239.2" y2="959.8" stroke="#000" stroke-width="1.5" />
<text x="231.1" y="963.0" font-size="9.5" font-weight="bold" text-anchor="end" textLength="17.5" lengthAdjust="spacingAndGlyphs">-120</text>
<line x1="238.3" y1="808.1" x2="485.5" y2="808.1" stroke="#000" stroke-width="1.6" />
<line x1="237.5" y1="959.7" x2="485.5" y2="959.7" stroke="#000" stroke-width="1.7" />
<line x1="266.8" y1="959.7" x2="266.8" y2="965.1" stroke="#000" stroke-width="1.5" />
<text x="266.8" y="975.3" font-size="9.3" font-weight="bold" text-anchor="middle">5sec</text>
<line x1="330.1" y1="959.7" x2="330.1" y2="965.1" stroke="#000" stroke-width="1.5" />
<text x="330.1" y="975.3" font-size="9.3" font-weight="bold" text-anchor="middle">10sec</text>
<line x1="393.0" y1="959.7" x2="393.0" y2="965.1" stroke="#000" stroke-width="1.5" />
<text x="393.0" y="975.3" font-size="9.3" font-weight="bold" text-anchor="middle">20sec</text>
<line x1="456.5" y1="959.7" x2="456.5" y2="965.1" stroke="#000" stroke-width="1.5" />
<text x="456.5" y="975.3" font-size="9.3" font-weight="bold" text-anchor="middle">40sec</text>
<text x="273.3" y="784.7" font-size="11.5" font-weight="bold" textLength="177.1" lengthAdjust="spacingAndGlyphs">Food Restricted + Refed (n=8)</text>
<text transform="translate(208.4,870.9) rotate(-90)" font-size="12.6" font-weight="bold" text-anchor="middle" textLength="131.3" lengthAdjust="spacingAndGlyphs">% decrease LL reward</text>
<text x="333.6" y="994.0" font-size="10.6" font-weight="bold" textLength="57.2" lengthAdjust="spacingAndGlyphs">Delay (sec)</text>
<rect x="245.2" y="808.2" width="9.3" height="11.8" fill="#fff" stroke="#000" stroke-width="1.7" />
<rect x="262.4" y="808.2" width="9.2" height="15.6" fill="#c7dcf6" stroke="#000" stroke-width="1.7" />
<rect x="278.4" y="807.4" width="11.2" height="26.6" fill="#0b7c96" stroke="#0b7c96" stroke-width="0.1" />
<rect x="308.4" y="808.2" width="9.5" height="30.5" fill="#fff" stroke="#000" stroke-width="1.7" />
<rect x="325.1" y="808.2" width="9.9" height="35.9" fill="#c7dcf6" stroke="#000" stroke-width="1.7" />
<rect x="341.9" y="807.4" width="10.8" height="36.8" fill="#0b7c96" stroke="#0b7c96" stroke-width="0.1" />
<rect x="371.1" y="808.2" width="9.6" height="34.0" fill="#fff" stroke="#000" stroke-width="1.7" />
<rect x="388.6" y="808.2" width="9.6" height="71.0" fill="#c7dcf6" stroke="#000" stroke-width="1.7" />
<rect x="405.4" y="807.4" width="10.9" height="55.8" fill="#0b7c96" stroke="#0b7c96" stroke-width="0.1" />
<rect x="434.7" y="808.2" width="9.2" height="46.0" fill="#fff" stroke="#000" stroke-width="1.7" />
<rect x="452.1" y="808.2" width="8.9" height="79.0" fill="#c7dcf6" stroke="#000" stroke-width="1.7" />
<rect x="468.4" y="807.4" width="11.2" height="64.5" fill="#0b7c96" stroke="#0b7c96" stroke-width="0.1" />
<line x1="249.8" y1="815.0" x2="249.8" y2="824.0" stroke="#0b7c96" stroke-width="1.1" />
<line x1="247.1" y1="815.0" x2="252.6" y2="815.0" stroke="#0b7c96" stroke-width="1.1" />
<line x1="247.1" y1="824.0" x2="252.6" y2="824.0" stroke="#0b7c96" stroke-width="1.1" />
<line x1="266.9" y1="818.0" x2="266.9" y2="829.0" stroke="#555" stroke-width="1.1" />
<line x1="264.2" y1="818.0" x2="269.7" y2="818.0" stroke="#555" stroke-width="1.1" />
<line x1="264.2" y1="829.0" x2="269.7" y2="829.0" stroke="#555" stroke-width="1.1" />
<line x1="284.0" y1="830.0" x2="284.0" y2="838.0" stroke="#0b7c96" stroke-width="1.1" />
<line x1="281.3" y1="830.0" x2="286.8" y2="830.0" stroke="#0b7c96" stroke-width="1.1" />
<line x1="281.3" y1="838.0" x2="286.8" y2="838.0" stroke="#0b7c96" stroke-width="1.1" />
<line x1="313.1" y1="828.0" x2="313.1" y2="849.0" stroke="#0b7c96" stroke-width="1.1" />
<line x1="310.4" y1="828.0" x2="315.9" y2="828.0" stroke="#0b7c96" stroke-width="1.1" />
<line x1="310.4" y1="849.0" x2="315.9" y2="849.0" stroke="#0b7c96" stroke-width="1.1" />
<line x1="330.0" y1="833.6" x2="330.0" y2="856.2" stroke="#555" stroke-width="1.1" />
<line x1="327.2" y1="833.6" x2="332.8" y2="833.6" stroke="#555" stroke-width="1.1" />
<line x1="327.2" y1="856.2" x2="332.8" y2="856.2" stroke="#555" stroke-width="1.1" />
<line x1="347.4" y1="837.0" x2="347.4" y2="850.4" stroke="#0b7c96" stroke-width="1.1" />
<line x1="344.6" y1="837.0" x2="350.1" y2="837.0" stroke="#0b7c96" stroke-width="1.1" />
<line x1="344.6" y1="850.4" x2="350.1" y2="850.4" stroke="#0b7c96" stroke-width="1.1" />
<line x1="375.9" y1="835.3" x2="375.9" y2="850.4" stroke="#0b7c96" stroke-width="1.1" />
<line x1="373.1" y1="835.3" x2="378.6" y2="835.3" stroke="#0b7c96" stroke-width="1.1" />
<line x1="373.1" y1="850.4" x2="378.6" y2="850.4" stroke="#0b7c96" stroke-width="1.1" />
<line x1="393.4" y1="870.0" x2="393.4" y2="888.3" stroke="#555" stroke-width="1.1" />
<line x1="390.6" y1="870.0" x2="396.1" y2="870.0" stroke="#555" stroke-width="1.1" />
<line x1="390.6" y1="888.3" x2="396.1" y2="888.3" stroke="#555" stroke-width="1.1" />
<line x1="410.9" y1="852.0" x2="410.9" y2="873.4" stroke="#0b7c96" stroke-width="1.1" />
<line x1="408.1" y1="852.0" x2="413.6" y2="852.0" stroke="#0b7c96" stroke-width="1.1" />
<line x1="408.1" y1="873.4" x2="413.6" y2="873.4" stroke="#0b7c96" stroke-width="1.1" />
<line x1="439.2" y1="846.0" x2="439.2" y2="862.5" stroke="#0b7c96" stroke-width="1.1" />
<line x1="436.5" y1="846.0" x2="442.0" y2="846.0" stroke="#0b7c96" stroke-width="1.1" />
<line x1="436.5" y1="862.5" x2="442.0" y2="862.5" stroke="#0b7c96" stroke-width="1.1" />
<line x1="456.5" y1="878.1" x2="456.5" y2="897.1" stroke="#555" stroke-width="1.1" />
<line x1="453.8" y1="878.1" x2="459.2" y2="878.1" stroke="#555" stroke-width="1.1" />
<line x1="453.8" y1="897.1" x2="459.2" y2="897.1" stroke="#555" stroke-width="1.1" />
<line x1="474.0" y1="862.0" x2="474.0" y2="881.0" stroke="#0b7c96" stroke-width="1.1" />
<line x1="471.2" y1="862.0" x2="476.7" y2="862.0" stroke="#0b7c96" stroke-width="1.1" />
<line x1="471.2" y1="881.0" x2="476.7" y2="881.0" stroke="#0b7c96" stroke-width="1.1" />
<rect x="247.1" y="805.1" width="4.4" height="4.4" fill="#0b7c96" stroke="none" stroke-width="0" />
<rect x="247.1" y="810.9" width="4.4" height="4.4" fill="#0b7c96" stroke="none" stroke-width="0" />
<rect x="243.8" y="812.4" width="4.4" height="4.4" fill="#0b7c96" stroke="none" stroke-width="0" />
<rect x="250.3" y="814.6" width="4.4" height="4.4" fill="#0b7c96" stroke="none" stroke-width="0" />
<rect x="243.8" y="816.0" width="4.4" height="4.4" fill="#0b7c96" stroke="none" stroke-width="0" />
<rect x="247.1" y="816.0" width="4.4" height="4.4" fill="#0b7c96" stroke="none" stroke-width="0" />
<rect x="245.2" y="819.7" width="4.4" height="4.4" fill="#0b7c96" stroke="none" stroke-width="0" />
<rect x="248.9" y="821.2" width="4.4" height="4.4" fill="#0b7c96" stroke="none" stroke-width="0" />
<rect x="247.1" y="844.5" width="4.4" height="4.4" fill="#0b7c96" stroke="none" stroke-width="0" />
<rect x="310.9" y="811.2" width="4.4" height="4.4" fill="#0b7c96" stroke="none" stroke-width="0" />
<rect x="310.9" y="818.5" width="4.4" height="4.4" fill="#0b7c96" stroke="none" stroke-width="0" />
<rect x="306.5" y="829.6" width="4.4" height="4.4" fill="#0b7c96" stroke="none" stroke-width="0" />
<rect x="314.6" y="827.0" width="4.4" height="4.4" fill="#0b7c96" stroke="none" stroke-width="0" />
<rect x="314.6" y="832.1" width="4.4" height="4.4" fill="#0b7c96" stroke="none" stroke-width="0" />
<rect x="310.9" y="844.8" width="4.4" height="4.4" fill="#0b7c96" stroke="none" stroke-width="0" />
<rect x="310.9" y="848.9" width="4.4" height="4.4" fill="#0b7c96" stroke="none" stroke-width="0" />
<rect x="310.9" y="883.9" width="4.4" height="4.4" fill="#0b7c96" stroke="none" stroke-width="0" />
<rect x="373.7" y="815.6" width="4.4" height="4.4" fill="#0b7c96" stroke="none" stroke-width="0" />
<rect x="369.6" y="824.1" width="4.4" height="4.4" fill="#0b7c96" stroke="none" stroke-width="0" />
<rect x="369.6" y="827.0" width="4.4" height="4.4" fill="#0b7c96" stroke="none" stroke-width="0" />
<rect x="377.7" y="824.8" width="4.4" height="4.4" fill="#0b7c96" stroke="none" stroke-width="0" />
<rect x="369.6" y="848.6" width="4.4" height="4.4" fill="#0b7c96" stroke="none" stroke-width="0" />
<rect x="377.7" y="847.7" width="4.4" height="4.4" fill="#0b7c96" stroke="none" stroke-width="0" />
<rect x="373.7" y="861.6" width="4.4" height="4.4" fill="#0b7c96" stroke="none" stroke-width="0" />
<rect x="373.7" y="878.8" width="4.4" height="4.4" fill="#0b7c96" stroke="none" stroke-width="0" />
<rect x="436.9" y="815.0" width="4.4" height="4.4" fill="#0b7c96" stroke="none" stroke-width="0" />
<rect x="433.6" y="844.2" width="4.4" height="4.4" fill="#0b7c96" stroke="none" stroke-width="0" />
<rect x="436.9" y="846.0" width="4.4" height="4.4" fill="#0b7c96" stroke="none" stroke-width="0" />
<rect x="440.1" y="845.2" width="4.4" height="4.4" fill="#0b7c96" stroke="none" stroke-width="0" />
<rect x="436.9" y="868.6" width="4.4" height="4.4" fill="#0b7c96" stroke="none" stroke-width="0" />
<rect x="436.9" y="874.4" width="4.4" height="4.4" fill="#0b7c96" stroke="none" stroke-width="0" />
<rect x="436.9" y="882.8" width="4.4" height="4.4" fill="#0b7c96" stroke="none" stroke-width="0" />
<rect x="264.8" y="809.7" width="4.1" height="4.1" fill="#fff" stroke="#0b7c96" stroke-width="1.3" />
<rect x="260.6" y="812.6" width="4.1" height="4.1" fill="#fff" stroke="#0b7c96" stroke-width="1.3" />
<rect x="264.8" y="815.2" width="4.1" height="4.1" fill="#fff" stroke="#0b7c96" stroke-width="1.3" />
<rect x="260.6" y="819.6" width="4.1" height="4.1" fill="#fff" stroke="#0b7c96" stroke-width="1.3" />
<rect x="264.8" y="819.6" width="4.1" height="4.1" fill="#fff" stroke="#0b7c96" stroke-width="1.3" />
<rect x="268.4" y="820.6" width="4.1" height="4.1" fill="#fff" stroke="#0b7c96" stroke-width="1.3" />
<rect x="264.8" y="823.1" width="4.1" height="4.1" fill="#fff" stroke="#0b7c96" stroke-width="1.3" />
<rect x="264.8" y="828.2" width="4.1" height="4.1" fill="#fff" stroke="#0b7c96" stroke-width="1.3" />
<rect x="264.8" y="852.0" width="4.1" height="4.1" fill="#fff" stroke="#0b7c96" stroke-width="1.3" />
<rect x="327.8" y="813.2" width="4.1" height="4.1" fill="#fff" stroke="#0b7c96" stroke-width="1.3" />
<rect x="323.8" y="821.1" width="4.1" height="4.1" fill="#fff" stroke="#0b7c96" stroke-width="1.3" />
<rect x="327.8" y="819.2" width="4.1" height="4.1" fill="#fff" stroke="#0b7c96" stroke-width="1.3" />
<rect x="331.8" y="822.5" width="4.1" height="4.1" fill="#fff" stroke="#0b7c96" stroke-width="1.3" />
<rect x="331.8" y="838.1" width="4.1" height="4.1" fill="#fff" stroke="#0b7c96" stroke-width="1.3" />
<rect x="327.8" y="842.5" width="4.1" height="4.1" fill="#fff" stroke="#0b7c96" stroke-width="1.3" />
<rect x="327.8" y="875.4" width="4.1" height="4.1" fill="#fff" stroke="#0b7c96" stroke-width="1.3" />
<rect x="327.8" y="909.0" width="4.1" height="4.1" fill="#fff" stroke="#0b7c96" stroke-width="1.3" />
<rect x="390.9" y="834.2" width="4.1" height="4.1" fill="#fff" stroke="#0b7c96" stroke-width="1.3" />
<rect x="387.2" y="867.2" width="4.1" height="4.1" fill="#fff" stroke="#0b7c96" stroke-width="1.3" />
<rect x="395.3" y="868.1" width="4.1" height="4.1" fill="#fff" stroke="#0b7c96" stroke-width="1.3" />
<rect x="390.9" y="871.0" width="4.1" height="4.1" fill="#fff" stroke="#0b7c96" stroke-width="1.3" />
<rect x="390.9" y="875.1" width="4.1" height="4.1" fill="#fff" stroke="#0b7c96" stroke-width="1.3" />
<rect x="390.9" y="881.5" width="4.1" height="4.1" fill="#fff" stroke="#0b7c96" stroke-width="1.3" />
<rect x="391.1" y="909.7" width="4.1" height="4.1" fill="#fff" stroke="#0b7c96" stroke-width="1.3" />
<rect x="391.1" y="915.2" width="4.1" height="4.1" fill="#fff" stroke="#0b7c96" stroke-width="1.3" />
<rect x="454.6" y="842.1" width="4.1" height="4.1" fill="#fff" stroke="#0b7c96" stroke-width="1.3" />
<rect x="450.8" y="864.4" width="4.1" height="4.1" fill="#fff" stroke="#0b7c96" stroke-width="1.3" />
<rect x="458.2" y="867.2" width="4.1" height="4.1" fill="#fff" stroke="#0b7c96" stroke-width="1.3" />
<rect x="454.6" y="881.2" width="4.1" height="4.1" fill="#fff" stroke="#0b7c96" stroke-width="1.3" />
<rect x="454.6" y="886.2" width="4.1" height="4.1" fill="#fff" stroke="#0b7c96" stroke-width="1.3" />
<rect x="450.1" y="908.2" width="4.1" height="4.1" fill="#fff" stroke="#0b7c96" stroke-width="1.3" />
<rect x="457.9" y="909.7" width="4.1" height="4.1" fill="#fff" stroke="#0b7c96" stroke-width="1.3" />
<rect x="454.4" y="925.1" width="4.1" height="4.1" fill="#fff" stroke="#0b7c96" stroke-width="1.3" />
<rect x="281.8" y="823.4" width="4.3" height="4.3" fill="#fff" stroke="#0b7c96" stroke-width="1.0" />
<rect x="281.2" y="822.9" width="5.3" height="2.6" fill="#0b7c96" stroke="none" stroke-width="0" />
<rect x="277.4" y="830.6" width="4.3" height="4.3" fill="#fff" stroke="#0b7c96" stroke-width="1.0" />
<rect x="276.9" y="830.1" width="5.3" height="2.6" fill="#0b7c96" stroke="none" stroke-width="0" />
<rect x="281.8" y="830.6" width="4.3" height="4.3" fill="#fff" stroke="#0b7c96" stroke-width="1.0" />
<rect x="281.2" y="830.1" width="5.3" height="2.6" fill="#0b7c96" stroke="none" stroke-width="0" />
<rect x="285.5" y="830.0" width="4.3" height="4.3" fill="#fff" stroke="#0b7c96" stroke-width="1.0" />
<rect x="285.0" y="829.5" width="5.3" height="2.6" fill="#0b7c96" stroke="none" stroke-width="0" />
<rect x="281.8" y="836.6" width="4.3" height="4.3" fill="#fff" stroke="#0b7c96" stroke-width="1.0" />
<rect x="281.2" y="836.1" width="5.3" height="2.6" fill="#0b7c96" stroke="none" stroke-width="0" />
<rect x="281.8" y="839.5" width="4.3" height="4.3" fill="#fff" stroke="#0b7c96" stroke-width="1.0" />
<rect x="281.2" y="839.0" width="5.3" height="2.6" fill="#0b7c96" stroke="none" stroke-width="0" />
<rect x="278.2" y="843.1" width="4.3" height="4.3" fill="#fff" stroke="#0b7c96" stroke-width="1.0" />
<rect x="277.7" y="842.6" width="5.3" height="2.6" fill="#0b7c96" stroke="none" stroke-width="0" />
<rect x="285.5" y="842.4" width="4.3" height="4.3" fill="#fff" stroke="#0b7c96" stroke-width="1.0" />
<rect x="285.0" y="841.9" width="5.3" height="2.6" fill="#0b7c96" stroke="none" stroke-width="0" />
<rect x="345.2" y="829.6" width="4.3" height="4.3" fill="#fff" stroke="#0b7c96" stroke-width="1.0" />
<rect x="344.7" y="829.1" width="5.3" height="2.6" fill="#0b7c96" stroke="none" stroke-width="0" />
<rect x="349.0" y="828.8" width="4.3" height="4.3" fill="#fff" stroke="#0b7c96" stroke-width="1.0" />
<rect x="348.5" y="828.2" width="5.3" height="2.6" fill="#0b7c96" stroke="none" stroke-width="0" />
<rect x="349.0" y="835.9" width="4.3" height="4.3" fill="#fff" stroke="#0b7c96" stroke-width="1.0" />
<rect x="348.5" y="835.4" width="5.3" height="2.6" fill="#0b7c96" stroke="none" stroke-width="0" />
<rect x="341.2" y="839.5" width="4.3" height="4.3" fill="#fff" stroke="#0b7c96" stroke-width="1.0" />
<rect x="340.8" y="839.0" width="5.3" height="2.6" fill="#0b7c96" stroke="none" stroke-width="0" />
<rect x="345.2" y="838.8" width="4.3" height="4.3" fill="#fff" stroke="#0b7c96" stroke-width="1.0" />
<rect x="344.7" y="838.2" width="5.3" height="2.6" fill="#0b7c96" stroke="none" stroke-width="0" />
<rect x="349.0" y="841.0" width="4.3" height="4.3" fill="#fff" stroke="#0b7c96" stroke-width="1.0" />
<rect x="348.5" y="840.5" width="5.3" height="2.6" fill="#0b7c96" stroke="none" stroke-width="0" />
<rect x="345.2" y="852.6" width="4.3" height="4.3" fill="#fff" stroke="#0b7c96" stroke-width="1.0" />
<rect x="344.7" y="852.1" width="5.3" height="2.6" fill="#0b7c96" stroke="none" stroke-width="0" />
<rect x="345.2" y="878.1" width="4.3" height="4.3" fill="#fff" stroke="#0b7c96" stroke-width="1.0" />
<rect x="344.7" y="877.6" width="5.3" height="2.6" fill="#0b7c96" stroke="none" stroke-width="0" />
<rect x="408.4" y="822.6" width="4.3" height="4.3" fill="#fff" stroke="#0b7c96" stroke-width="1.0" />
<rect x="407.9" y="822.1" width="5.3" height="2.6" fill="#0b7c96" stroke="none" stroke-width="0" />
<rect x="408.4" y="845.8" width="4.3" height="4.3" fill="#fff" stroke="#0b7c96" stroke-width="1.0" />
<rect x="407.9" y="845.2" width="5.3" height="2.6" fill="#0b7c96" stroke="none" stroke-width="0" />
<rect x="404.8" y="856.2" width="4.3" height="4.3" fill="#fff" stroke="#0b7c96" stroke-width="1.0" />
<rect x="404.2" y="855.8" width="5.3" height="2.6" fill="#0b7c96" stroke="none" stroke-width="0" />
<rect x="412.1" y="856.2" width="4.3" height="4.3" fill="#fff" stroke="#0b7c96" stroke-width="1.0" />
<rect x="411.6" y="855.8" width="5.3" height="2.6" fill="#0b7c96" stroke="none" stroke-width="0" />
<rect x="408.4" y="859.9" width="4.3" height="4.3" fill="#fff" stroke="#0b7c96" stroke-width="1.0" />
<rect x="407.9" y="859.4" width="5.3" height="2.6" fill="#0b7c96" stroke="none" stroke-width="0" />
<rect x="412.1" y="860.4" width="4.3" height="4.3" fill="#fff" stroke="#0b7c96" stroke-width="1.0" />
<rect x="411.6" y="859.9" width="5.3" height="2.6" fill="#0b7c96" stroke="none" stroke-width="0" />
<rect x="404.8" y="863.9" width="4.3" height="4.3" fill="#fff" stroke="#0b7c96" stroke-width="1.0" />
<rect x="404.2" y="863.4" width="5.3" height="2.6" fill="#0b7c96" stroke="none" stroke-width="0" />
<rect x="408.4" y="890.4" width="4.3" height="4.3" fill="#fff" stroke="#0b7c96" stroke-width="1.0" />
<rect x="407.9" y="889.9" width="5.3" height="2.6" fill="#0b7c96" stroke="none" stroke-width="0" />
<rect x="408.4" y="907.5" width="4.3" height="4.3" fill="#fff" stroke="#0b7c96" stroke-width="1.0" />
<rect x="407.9" y="907.0" width="5.3" height="2.6" fill="#0b7c96" stroke="none" stroke-width="0" />
<rect x="471.6" y="823.9" width="4.3" height="4.3" fill="#fff" stroke="#0b7c96" stroke-width="1.0" />
<rect x="471.1" y="823.4" width="5.3" height="2.6" fill="#0b7c96" stroke="none" stroke-width="0" />
<rect x="471.6" y="836.2" width="4.3" height="4.3" fill="#fff" stroke="#0b7c96" stroke-width="1.0" />
<rect x="471.1" y="835.8" width="5.3" height="2.6" fill="#0b7c96" stroke="none" stroke-width="0" />
<rect x="471.6" y="868.0" width="4.3" height="4.3" fill="#fff" stroke="#0b7c96" stroke-width="1.0" />
<rect x="471.1" y="867.5" width="5.3" height="2.6" fill="#0b7c96" stroke="none" stroke-width="0" />
<rect x="471.6" y="873.1" width="4.3" height="4.3" fill="#fff" stroke="#0b7c96" stroke-width="1.0" />
<rect x="471.1" y="872.6" width="5.3" height="2.6" fill="#0b7c96" stroke="none" stroke-width="0" />
<rect x="468.0" y="883.2" width="4.3" height="4.3" fill="#fff" stroke="#0b7c96" stroke-width="1.0" />
<rect x="467.5" y="882.8" width="5.3" height="2.6" fill="#0b7c96" stroke="none" stroke-width="0" />
<rect x="475.2" y="880.4" width="4.3" height="4.3" fill="#fff" stroke="#0b7c96" stroke-width="1.0" />
<rect x="474.8" y="879.9" width="5.3" height="2.6" fill="#0b7c96" stroke="none" stroke-width="0" />
<rect x="475.2" y="885.1" width="4.3" height="4.3" fill="#fff" stroke="#0b7c96" stroke-width="1.0" />
<rect x="474.8" y="884.6" width="5.3" height="2.6" fill="#0b7c96" stroke="none" stroke-width="0" />
<rect x="471.5" y="911.8" width="4.3" height="4.3" fill="#fff" stroke="#0b7c96" stroke-width="1.0" />
<rect x="471.0" y="911.2" width="5.3" height="2.6" fill="#0b7c96" stroke="none" stroke-width="0" />
<path d="M266.1,859.6 L266.1,866 L284.3,866 L284.3,853.3" stroke="#000" stroke-width="1.5" fill="none" />
<path d="M249.3,854.7 L249.3,885.1 L284.3,885.1 L284.3,875.2" stroke="#000" stroke-width="1.5" fill="none" />
<line x1="275.4" y1="874.5" x2="275.4" y2="880.3" stroke="#000" stroke-width="1.2" />
<line x1="272.9" y1="875.9" x2="277.9" y2="878.9" stroke="#000" stroke-width="1.2" />
<line x1="272.9" y1="878.9" x2="277.9" y2="875.9" stroke="#000" stroke-width="1.2" />
<line x1="266.8" y1="893.7" x2="266.8" y2="899.5" stroke="#000" stroke-width="1.2" />
<line x1="264.3" y1="895.1" x2="269.3" y2="898.1" stroke="#000" stroke-width="1.2" />
<line x1="264.3" y1="898.1" x2="269.3" y2="895.1" stroke="#000" stroke-width="1.2" />
<path d="M375,890.5 L375,927.1 L390.4,927.1 L390.4,922.7" stroke="#000" stroke-width="1.5" fill="none" />
<path d="M394.3,922.7 L394.3,927.1 L410.5,927.1 L410.5,916.8" stroke="#000" stroke-width="1.5" fill="none" />
<line x1="379.0" y1="936.7" x2="379.0" y2="942.5" stroke="#000" stroke-width="1.2" />
<line x1="376.5" y1="938.1" x2="381.5" y2="941.1" stroke="#000" stroke-width="1.2" />
<line x1="376.5" y1="941.1" x2="381.5" y2="938.1" stroke="#000" stroke-width="1.2" />
<line x1="386.4" y1="936.7" x2="386.4" y2="942.5" stroke="#000" stroke-width="1.2" />
<line x1="383.9" y1="938.1" x2="388.9" y2="941.1" stroke="#000" stroke-width="1.2" />
<line x1="383.9" y1="941.1" x2="388.9" y2="938.1" stroke="#000" stroke-width="1.2" />
<line x1="399.1" y1="936.7" x2="399.1" y2="942.5" stroke="#000" stroke-width="1.2" />
<line x1="396.6" y1="938.1" x2="401.6" y2="941.1" stroke="#000" stroke-width="1.2" />
<line x1="396.6" y1="941.1" x2="401.6" y2="938.1" stroke="#000" stroke-width="1.2" />
<line x1="406.5" y1="936.7" x2="406.5" y2="942.5" stroke="#000" stroke-width="1.2" />
<line x1="404.0" y1="938.1" x2="409.0" y2="941.1" stroke="#000" stroke-width="1.2" />
<line x1="404.0" y1="941.1" x2="409.0" y2="938.1" stroke="#000" stroke-width="1.2" />
<path d="M440.7,892.7 L440.7,940.7 L456.5,940.7 L456.5,934.7" stroke="#000" stroke-width="1.5" fill="none" />
<line x1="445.1" y1="949.9" x2="445.1" y2="955.7" stroke="#000" stroke-width="1.2" />
<line x1="442.6" y1="951.3" x2="447.6" y2="954.2" stroke="#000" stroke-width="1.2" />
<line x1="442.6" y1="954.2" x2="447.6" y2="951.3" stroke="#000" stroke-width="1.2" />
<line x1="452.5" y1="949.9" x2="452.5" y2="955.7" stroke="#000" stroke-width="1.2" />
<line x1="450.0" y1="951.3" x2="455.0" y2="954.2" stroke="#000" stroke-width="1.2" />
<line x1="450.0" y1="954.2" x2="455.0" y2="951.3" stroke="#000" stroke-width="1.2" />
<rect x="286.5" y="1007.2" width="3.8" height="3.8" fill="#0b7c96" stroke="none" stroke-width="0" />
<text x="303.0" y="1012.2" font-size="8.6" font-weight="bold" textLength="23.2" lengthAdjust="spacingAndGlyphs">DDT1</text>
<rect x="352.7" y="1007.3" width="3.6" height="3.6" fill="#fff" stroke="#0b7c96" stroke-width="1.0" />
<text x="368.6" y="1012.2" font-size="8.6" font-weight="bold" textLength="24.2" lengthAdjust="spacingAndGlyphs">DDT2</text>
<rect x="418.8" y="1007.2" width="3.8" height="3.8" fill="#fff" stroke="#0b7c96" stroke-width="1.0" />
<rect x="418.3" y="1006.7" width="4.8" height="2.4" fill="#0b7c96" stroke="none" stroke-width="0" />
<text x="434.9" y="1012.2" font-size="8.6" font-weight="bold" textLength="23.6" lengthAdjust="spacingAndGlyphs">DDT3</text>
</svg></body></html>
